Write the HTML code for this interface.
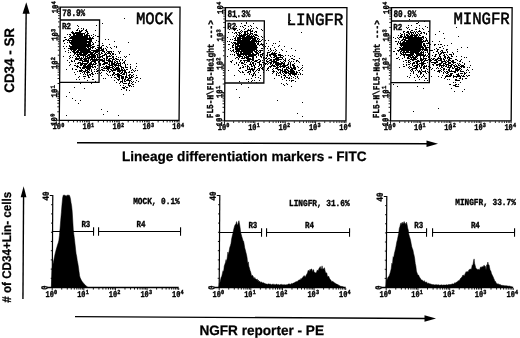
<!DOCTYPE html>
<html><head><meta charset="utf-8"><title>Figure</title>
<style>html,body{margin:0;padding:0;background:#fff;}svg{display:block;}</style>
</head><body>
<svg width="520" height="338" viewBox="0 0 520 338" text-rendering="geometricPrecision">
<rect width="520" height="338" fill="#fff"/>
<g transform="translate(0 64) skewX(-0.5) translate(0 -64)">
<rect x="59.80" y="7.10" width="119.75" height="113.20" fill="none" stroke="#000" stroke-width="1.3"/>
<path d="M59.80 120.80v2.6M68.81 120.80v1.6M74.08 120.80v1.6M77.82 120.80v1.6M80.73 120.80v1.6M83.10 120.80v1.6M85.10 120.80v1.6M86.84 120.80v1.6M88.37 120.80v1.6M89.74 120.80v2.6M98.75 120.80v1.6M104.02 120.80v1.6M107.76 120.80v1.6M110.66 120.80v1.6M113.03 120.80v1.6M115.04 120.80v1.6M116.77 120.80v1.6M118.31 120.80v1.6M119.68 120.80v2.6M128.69 120.80v1.6M133.96 120.80v1.6M137.70 120.80v1.6M140.60 120.80v1.6M142.97 120.80v1.6M144.98 120.80v1.6M146.71 120.80v1.6M148.24 120.80v1.6M149.61 120.80v2.6M158.62 120.80v1.6M163.90 120.80v1.6M167.64 120.80v1.6M170.54 120.80v1.6M172.91 120.80v1.6M174.91 120.80v1.6M176.65 120.80v1.6M178.18 120.80v1.6M179.55 120.80v2.0" stroke="#000" stroke-width="0.9" fill="none"/>
<path d="M59.30 120.30h-2.6M59.30 111.78h-1.6M59.30 106.80h-1.6M59.30 103.26h-1.6M59.30 100.52h-1.6M59.30 98.28h-1.6M59.30 96.38h-1.6M59.30 94.74h-1.6M59.30 93.29h-1.6M59.30 92.00h-2.6M59.30 83.48h-1.6M59.30 78.50h-1.6M59.30 74.96h-1.6M59.30 72.22h-1.6M59.30 69.98h-1.6M59.30 68.08h-1.6M59.30 66.44h-1.6M59.30 64.99h-1.6M59.30 63.70h-2.6M59.30 55.18h-1.6M59.30 50.20h-1.6M59.30 46.66h-1.6M59.30 43.92h-1.6M59.30 41.68h-1.6M59.30 39.78h-1.6M59.30 38.14h-1.6M59.30 36.69h-1.6M59.30 35.40h-2.6M59.30 26.88h-1.6M59.30 21.90h-1.6M59.30 18.36h-1.6M59.30 15.62h-1.6M59.30 13.38h-1.6M59.30 11.48h-1.6M59.30 9.84h-1.6M59.30 8.39h-1.6M59.30 7.10h-2.2" stroke="#000" stroke-width="0.9" fill="none"/>
<path d="M59.80 20.00H99.20V82.30H59.80" fill="none" stroke="#000" stroke-width="1.3"/>
<text x="135.60" y="23.60" font-family='"Liberation Mono", monospace' font-size="17" font-weight="normal" text-anchor="start" textLength="37.20" lengthAdjust="spacingAndGlyphs" stroke="#000" stroke-width="0.55">MOCK</text>
<text x="61.80" y="16.10" font-family='"Liberation Mono", monospace' font-size="10" font-weight="bold" text-anchor="start" textLength="23.00" lengthAdjust="spacingAndGlyphs" stroke="#000" stroke-width="0.38">78.9%</text>
<text x="61.80" y="28.60" font-family='"Liberation Mono", monospace' font-size="9.2" font-weight="bold" text-anchor="start" textLength="8.90" lengthAdjust="spacingAndGlyphs" stroke="#000" stroke-width="0.38">R2</text>
<text x="53.20" y="129.30" font-family='"Liberation Mono", monospace' font-size="8.8" font-weight="bold" text-anchor="start" textLength="8.30" lengthAdjust="spacingAndGlyphs" stroke="#000" stroke-width="0.38">10</text>
<text x="61.70" y="126.90" font-family='"Liberation Mono", monospace' font-size="6.2" font-weight="bold" text-anchor="start" textLength="3.10" lengthAdjust="spacingAndGlyphs" stroke="#000" stroke-width="0.38">0</text>
<text x="83.14" y="129.30" font-family='"Liberation Mono", monospace' font-size="8.8" font-weight="bold" text-anchor="start" textLength="8.30" lengthAdjust="spacingAndGlyphs" stroke="#000" stroke-width="0.38">10</text>
<text x="91.64" y="126.90" font-family='"Liberation Mono", monospace' font-size="6.2" font-weight="bold" text-anchor="start" textLength="3.10" lengthAdjust="spacingAndGlyphs" stroke="#000" stroke-width="0.38">1</text>
<text x="113.08" y="129.30" font-family='"Liberation Mono", monospace' font-size="8.8" font-weight="bold" text-anchor="start" textLength="8.30" lengthAdjust="spacingAndGlyphs" stroke="#000" stroke-width="0.38">10</text>
<text x="121.58" y="126.90" font-family='"Liberation Mono", monospace' font-size="6.2" font-weight="bold" text-anchor="start" textLength="3.10" lengthAdjust="spacingAndGlyphs" stroke="#000" stroke-width="0.38">2</text>
<text x="143.01" y="129.30" font-family='"Liberation Mono", monospace' font-size="8.8" font-weight="bold" text-anchor="start" textLength="8.30" lengthAdjust="spacingAndGlyphs" stroke="#000" stroke-width="0.38">10</text>
<text x="151.51" y="126.90" font-family='"Liberation Mono", monospace' font-size="6.2" font-weight="bold" text-anchor="start" textLength="3.10" lengthAdjust="spacingAndGlyphs" stroke="#000" stroke-width="0.38">3</text>
<text x="172.95" y="129.30" font-family='"Liberation Mono", monospace' font-size="8.8" font-weight="bold" text-anchor="start" textLength="8.30" lengthAdjust="spacingAndGlyphs" stroke="#000" stroke-width="0.38">10</text>
<text x="181.45" y="126.90" font-family='"Liberation Mono", monospace' font-size="6.2" font-weight="bold" text-anchor="start" textLength="3.10" lengthAdjust="spacingAndGlyphs" stroke="#000" stroke-width="0.38">4</text>
<g transform="translate(57.40 125.70) rotate(-90)">
<text x="0.00" y="0.00" font-family='"Liberation Mono", monospace' font-size="8.8" font-weight="bold" text-anchor="start" textLength="8.60" lengthAdjust="spacingAndGlyphs" stroke="#000" stroke-width="0.38">10</text>
<text x="8.90" y="-2.40" font-family='"Liberation Mono", monospace' font-size="6.2" font-weight="bold" text-anchor="start" textLength="3.20" lengthAdjust="spacingAndGlyphs" stroke="#000" stroke-width="0.38">0</text>
</g>
<g transform="translate(57.40 97.40) rotate(-90)">
<text x="0.00" y="0.00" font-family='"Liberation Mono", monospace' font-size="8.8" font-weight="bold" text-anchor="start" textLength="8.60" lengthAdjust="spacingAndGlyphs" stroke="#000" stroke-width="0.38">10</text>
<text x="8.90" y="-2.40" font-family='"Liberation Mono", monospace' font-size="6.2" font-weight="bold" text-anchor="start" textLength="3.20" lengthAdjust="spacingAndGlyphs" stroke="#000" stroke-width="0.38">1</text>
</g>
<g transform="translate(57.40 69.10) rotate(-90)">
<text x="0.00" y="0.00" font-family='"Liberation Mono", monospace' font-size="8.8" font-weight="bold" text-anchor="start" textLength="8.60" lengthAdjust="spacingAndGlyphs" stroke="#000" stroke-width="0.38">10</text>
<text x="8.90" y="-2.40" font-family='"Liberation Mono", monospace' font-size="6.2" font-weight="bold" text-anchor="start" textLength="3.20" lengthAdjust="spacingAndGlyphs" stroke="#000" stroke-width="0.38">2</text>
</g>
<g transform="translate(57.40 40.80) rotate(-90)">
<text x="0.00" y="0.00" font-family='"Liberation Mono", monospace' font-size="8.8" font-weight="bold" text-anchor="start" textLength="8.60" lengthAdjust="spacingAndGlyphs" stroke="#000" stroke-width="0.38">10</text>
<text x="8.90" y="-2.40" font-family='"Liberation Mono", monospace' font-size="6.2" font-weight="bold" text-anchor="start" textLength="3.20" lengthAdjust="spacingAndGlyphs" stroke="#000" stroke-width="0.38">3</text>
</g>
<g transform="translate(57.40 13.30) rotate(-90)">
<text x="0.00" y="0.00" font-family='"Liberation Mono", monospace' font-size="8.8" font-weight="bold" text-anchor="start" textLength="8.60" lengthAdjust="spacingAndGlyphs" stroke="#000" stroke-width="0.38">10</text>
<text x="8.90" y="-2.40" font-family='"Liberation Mono", monospace' font-size="6.2" font-weight="bold" text-anchor="start" textLength="3.20" lengthAdjust="spacingAndGlyphs" stroke="#000" stroke-width="0.38">4</text>
</g>
<rect x="225.00" y="7.70" width="121.45" height="113.10" fill="none" stroke="#000" stroke-width="1.3"/>
<path d="M225.00 121.30v2.6M234.14 121.30v1.6M239.49 121.30v1.6M243.28 121.30v1.6M246.22 121.30v1.6M248.63 121.30v1.6M250.66 121.30v1.6M252.42 121.30v1.6M253.97 121.30v1.6M255.36 121.30v2.6M264.50 121.30v1.6M269.85 121.30v1.6M273.64 121.30v1.6M276.58 121.30v1.6M278.99 121.30v1.6M281.02 121.30v1.6M282.78 121.30v1.6M284.34 121.30v1.6M285.73 121.30v2.6M294.87 121.30v1.6M300.21 121.30v1.6M304.01 121.30v1.6M306.95 121.30v1.6M309.35 121.30v1.6M311.38 121.30v1.6M313.15 121.30v1.6M314.70 121.30v1.6M316.09 121.30v2.6M325.23 121.30v1.6M330.57 121.30v1.6M334.37 121.30v1.6M337.31 121.30v1.6M339.71 121.30v1.6M341.75 121.30v1.6M343.51 121.30v1.6M345.06 121.30v1.6M346.45 121.30v2.0" stroke="#000" stroke-width="0.9" fill="none"/>
<path d="M224.50 120.80h-2.6M224.50 112.29h-1.6M224.50 107.31h-1.6M224.50 103.78h-1.6M224.50 101.04h-1.6M224.50 98.80h-1.6M224.50 96.90h-1.6M224.50 95.27h-1.6M224.50 93.82h-1.6M224.50 92.53h-2.6M224.50 84.01h-1.6M224.50 79.03h-1.6M224.50 75.50h-1.6M224.50 72.76h-1.6M224.50 70.52h-1.6M224.50 68.63h-1.6M224.50 66.99h-1.6M224.50 65.54h-1.6M224.50 64.25h-2.6M224.50 55.74h-1.6M224.50 50.76h-1.6M224.50 47.23h-1.6M224.50 44.49h-1.6M224.50 42.25h-1.6M224.50 40.35h-1.6M224.50 38.72h-1.6M224.50 37.27h-1.6M224.50 35.98h-2.6M224.50 27.46h-1.6M224.50 22.48h-1.6M224.50 18.95h-1.6M224.50 16.21h-1.6M224.50 13.97h-1.6M224.50 12.08h-1.6M224.50 10.44h-1.6M224.50 8.99h-1.6M224.50 7.70h-2.2" stroke="#000" stroke-width="0.9" fill="none"/>
<path d="M225.00 20.80H264.00V83.00H225.00" fill="none" stroke="#000" stroke-width="1.3"/>
<text x="286.10" y="25.20" font-family='"Liberation Mono", monospace' font-size="17" font-weight="normal" text-anchor="start" textLength="56.90" lengthAdjust="spacingAndGlyphs" stroke="#000" stroke-width="0.55">LINGFR</text>
<text x="227.00" y="16.70" font-family='"Liberation Mono", monospace' font-size="10" font-weight="bold" text-anchor="start" textLength="23.00" lengthAdjust="spacingAndGlyphs" stroke="#000" stroke-width="0.38">81.3%</text>
<text x="227.00" y="29.40" font-family='"Liberation Mono", monospace' font-size="9.2" font-weight="bold" text-anchor="start" textLength="8.90" lengthAdjust="spacingAndGlyphs" stroke="#000" stroke-width="0.38">R2</text>
<text x="218.40" y="129.80" font-family='"Liberation Mono", monospace' font-size="8.8" font-weight="bold" text-anchor="start" textLength="8.30" lengthAdjust="spacingAndGlyphs" stroke="#000" stroke-width="0.38">10</text>
<text x="226.90" y="127.40" font-family='"Liberation Mono", monospace' font-size="6.2" font-weight="bold" text-anchor="start" textLength="3.10" lengthAdjust="spacingAndGlyphs" stroke="#000" stroke-width="0.38">0</text>
<text x="248.76" y="129.80" font-family='"Liberation Mono", monospace' font-size="8.8" font-weight="bold" text-anchor="start" textLength="8.30" lengthAdjust="spacingAndGlyphs" stroke="#000" stroke-width="0.38">10</text>
<text x="257.26" y="127.40" font-family='"Liberation Mono", monospace' font-size="6.2" font-weight="bold" text-anchor="start" textLength="3.10" lengthAdjust="spacingAndGlyphs" stroke="#000" stroke-width="0.38">1</text>
<text x="279.12" y="129.80" font-family='"Liberation Mono", monospace' font-size="8.8" font-weight="bold" text-anchor="start" textLength="8.30" lengthAdjust="spacingAndGlyphs" stroke="#000" stroke-width="0.38">10</text>
<text x="287.62" y="127.40" font-family='"Liberation Mono", monospace' font-size="6.2" font-weight="bold" text-anchor="start" textLength="3.10" lengthAdjust="spacingAndGlyphs" stroke="#000" stroke-width="0.38">2</text>
<text x="309.49" y="129.80" font-family='"Liberation Mono", monospace' font-size="8.8" font-weight="bold" text-anchor="start" textLength="8.30" lengthAdjust="spacingAndGlyphs" stroke="#000" stroke-width="0.38">10</text>
<text x="317.99" y="127.40" font-family='"Liberation Mono", monospace' font-size="6.2" font-weight="bold" text-anchor="start" textLength="3.10" lengthAdjust="spacingAndGlyphs" stroke="#000" stroke-width="0.38">3</text>
<text x="339.85" y="129.80" font-family='"Liberation Mono", monospace' font-size="8.8" font-weight="bold" text-anchor="start" textLength="8.30" lengthAdjust="spacingAndGlyphs" stroke="#000" stroke-width="0.38">10</text>
<text x="348.35" y="127.40" font-family='"Liberation Mono", monospace' font-size="6.2" font-weight="bold" text-anchor="start" textLength="3.10" lengthAdjust="spacingAndGlyphs" stroke="#000" stroke-width="0.38">4</text>
<g transform="translate(222.60 126.20) rotate(-90)">
<text x="0.00" y="0.00" font-family='"Liberation Mono", monospace' font-size="8.8" font-weight="bold" text-anchor="start" textLength="8.60" lengthAdjust="spacingAndGlyphs" stroke="#000" stroke-width="0.38">10</text>
<text x="8.90" y="-2.40" font-family='"Liberation Mono", monospace' font-size="6.2" font-weight="bold" text-anchor="start" textLength="3.20" lengthAdjust="spacingAndGlyphs" stroke="#000" stroke-width="0.38">0</text>
</g>
<g transform="translate(222.60 97.93) rotate(-90)">
<text x="0.00" y="0.00" font-family='"Liberation Mono", monospace' font-size="8.8" font-weight="bold" text-anchor="start" textLength="8.60" lengthAdjust="spacingAndGlyphs" stroke="#000" stroke-width="0.38">10</text>
<text x="8.90" y="-2.40" font-family='"Liberation Mono", monospace' font-size="6.2" font-weight="bold" text-anchor="start" textLength="3.20" lengthAdjust="spacingAndGlyphs" stroke="#000" stroke-width="0.38">1</text>
</g>
<g transform="translate(222.60 69.65) rotate(-90)">
<text x="0.00" y="0.00" font-family='"Liberation Mono", monospace' font-size="8.8" font-weight="bold" text-anchor="start" textLength="8.60" lengthAdjust="spacingAndGlyphs" stroke="#000" stroke-width="0.38">10</text>
<text x="8.90" y="-2.40" font-family='"Liberation Mono", monospace' font-size="6.2" font-weight="bold" text-anchor="start" textLength="3.20" lengthAdjust="spacingAndGlyphs" stroke="#000" stroke-width="0.38">2</text>
</g>
<g transform="translate(222.60 41.38) rotate(-90)">
<text x="0.00" y="0.00" font-family='"Liberation Mono", monospace' font-size="8.8" font-weight="bold" text-anchor="start" textLength="8.60" lengthAdjust="spacingAndGlyphs" stroke="#000" stroke-width="0.38">10</text>
<text x="8.90" y="-2.40" font-family='"Liberation Mono", monospace' font-size="6.2" font-weight="bold" text-anchor="start" textLength="3.20" lengthAdjust="spacingAndGlyphs" stroke="#000" stroke-width="0.38">3</text>
</g>
<g transform="translate(222.60 13.90) rotate(-90)">
<text x="0.00" y="0.00" font-family='"Liberation Mono", monospace' font-size="8.8" font-weight="bold" text-anchor="start" textLength="8.60" lengthAdjust="spacingAndGlyphs" stroke="#000" stroke-width="0.38">10</text>
<text x="8.90" y="-2.40" font-family='"Liberation Mono", monospace' font-size="6.2" font-weight="bold" text-anchor="start" textLength="3.20" lengthAdjust="spacingAndGlyphs" stroke="#000" stroke-width="0.38">4</text>
</g>
<text x="213.50" y="118.30" font-family='"Liberation Mono", monospace' font-size="9.2" font-weight="bold" text-anchor="start" textLength="98.20" lengthAdjust="spacingAndGlyphs" transform="rotate(-90 213.50 118.30)" stroke="#000" stroke-width="0.38">FL5-H\FL5-Height ---&gt;</text>
<rect x="391.05" y="7.70" width="120.60" height="113.10" fill="none" stroke="#000" stroke-width="1.3"/>
<path d="M391.05 121.30v2.6M400.13 121.30v1.6M405.44 121.30v1.6M409.20 121.30v1.6M412.12 121.30v1.6M414.51 121.30v1.6M416.53 121.30v1.6M418.28 121.30v1.6M419.82 121.30v1.6M421.20 121.30v2.6M430.28 121.30v1.6M435.59 121.30v1.6M439.35 121.30v1.6M442.27 121.30v1.6M444.66 121.30v1.6M446.68 121.30v1.6M448.43 121.30v1.6M449.97 121.30v1.6M451.35 121.30v2.6M460.43 121.30v1.6M465.74 121.30v1.6M469.50 121.30v1.6M472.42 121.30v1.6M474.81 121.30v1.6M476.83 121.30v1.6M478.58 121.30v1.6M480.12 121.30v1.6M481.50 121.30v2.6M490.58 121.30v1.6M495.89 121.30v1.6M499.65 121.30v1.6M502.57 121.30v1.6M504.96 121.30v1.6M506.98 121.30v1.6M508.73 121.30v1.6M510.27 121.30v1.6M511.65 121.30v2.0" stroke="#000" stroke-width="0.9" fill="none"/>
<path d="M390.55 120.80h-2.6M390.55 112.29h-1.6M390.55 107.31h-1.6M390.55 103.78h-1.6M390.55 101.04h-1.6M390.55 98.80h-1.6M390.55 96.90h-1.6M390.55 95.27h-1.6M390.55 93.82h-1.6M390.55 92.53h-2.6M390.55 84.01h-1.6M390.55 79.03h-1.6M390.55 75.50h-1.6M390.55 72.76h-1.6M390.55 70.52h-1.6M390.55 68.63h-1.6M390.55 66.99h-1.6M390.55 65.54h-1.6M390.55 64.25h-2.6M390.55 55.74h-1.6M390.55 50.76h-1.6M390.55 47.23h-1.6M390.55 44.49h-1.6M390.55 42.25h-1.6M390.55 40.35h-1.6M390.55 38.72h-1.6M390.55 37.27h-1.6M390.55 35.98h-2.6M390.55 27.46h-1.6M390.55 22.48h-1.6M390.55 18.95h-1.6M390.55 16.21h-1.6M390.55 13.97h-1.6M390.55 12.08h-1.6M390.55 10.44h-1.6M390.55 8.99h-1.6M390.55 7.70h-2.2" stroke="#000" stroke-width="0.9" fill="none"/>
<path d="M391.05 21.00H429.50V82.60H391.05" fill="none" stroke="#000" stroke-width="1.3"/>
<text x="453.10" y="24.10" font-family='"Liberation Mono", monospace' font-size="17" font-weight="normal" text-anchor="start" textLength="56.20" lengthAdjust="spacingAndGlyphs" stroke="#000" stroke-width="0.55">MINGFR</text>
<text x="393.05" y="16.70" font-family='"Liberation Mono", monospace' font-size="10" font-weight="bold" text-anchor="start" textLength="23.00" lengthAdjust="spacingAndGlyphs" stroke="#000" stroke-width="0.38">80.9%</text>
<text x="393.05" y="29.60" font-family='"Liberation Mono", monospace' font-size="9.2" font-weight="bold" text-anchor="start" textLength="8.90" lengthAdjust="spacingAndGlyphs" stroke="#000" stroke-width="0.38">R2</text>
<text x="384.45" y="129.80" font-family='"Liberation Mono", monospace' font-size="8.8" font-weight="bold" text-anchor="start" textLength="8.30" lengthAdjust="spacingAndGlyphs" stroke="#000" stroke-width="0.38">10</text>
<text x="392.95" y="127.40" font-family='"Liberation Mono", monospace' font-size="6.2" font-weight="bold" text-anchor="start" textLength="3.10" lengthAdjust="spacingAndGlyphs" stroke="#000" stroke-width="0.38">0</text>
<text x="414.60" y="129.80" font-family='"Liberation Mono", monospace' font-size="8.8" font-weight="bold" text-anchor="start" textLength="8.30" lengthAdjust="spacingAndGlyphs" stroke="#000" stroke-width="0.38">10</text>
<text x="423.10" y="127.40" font-family='"Liberation Mono", monospace' font-size="6.2" font-weight="bold" text-anchor="start" textLength="3.10" lengthAdjust="spacingAndGlyphs" stroke="#000" stroke-width="0.38">1</text>
<text x="444.75" y="129.80" font-family='"Liberation Mono", monospace' font-size="8.8" font-weight="bold" text-anchor="start" textLength="8.30" lengthAdjust="spacingAndGlyphs" stroke="#000" stroke-width="0.38">10</text>
<text x="453.25" y="127.40" font-family='"Liberation Mono", monospace' font-size="6.2" font-weight="bold" text-anchor="start" textLength="3.10" lengthAdjust="spacingAndGlyphs" stroke="#000" stroke-width="0.38">2</text>
<text x="474.90" y="129.80" font-family='"Liberation Mono", monospace' font-size="8.8" font-weight="bold" text-anchor="start" textLength="8.30" lengthAdjust="spacingAndGlyphs" stroke="#000" stroke-width="0.38">10</text>
<text x="483.40" y="127.40" font-family='"Liberation Mono", monospace' font-size="6.2" font-weight="bold" text-anchor="start" textLength="3.10" lengthAdjust="spacingAndGlyphs" stroke="#000" stroke-width="0.38">3</text>
<text x="505.05" y="129.80" font-family='"Liberation Mono", monospace' font-size="8.8" font-weight="bold" text-anchor="start" textLength="8.30" lengthAdjust="spacingAndGlyphs" stroke="#000" stroke-width="0.38">10</text>
<text x="513.55" y="127.40" font-family='"Liberation Mono", monospace' font-size="6.2" font-weight="bold" text-anchor="start" textLength="3.10" lengthAdjust="spacingAndGlyphs" stroke="#000" stroke-width="0.38">4</text>
<g transform="translate(388.65 126.20) rotate(-90)">
<text x="0.00" y="0.00" font-family='"Liberation Mono", monospace' font-size="8.8" font-weight="bold" text-anchor="start" textLength="8.60" lengthAdjust="spacingAndGlyphs" stroke="#000" stroke-width="0.38">10</text>
<text x="8.90" y="-2.40" font-family='"Liberation Mono", monospace' font-size="6.2" font-weight="bold" text-anchor="start" textLength="3.20" lengthAdjust="spacingAndGlyphs" stroke="#000" stroke-width="0.38">0</text>
</g>
<g transform="translate(388.65 97.93) rotate(-90)">
<text x="0.00" y="0.00" font-family='"Liberation Mono", monospace' font-size="8.8" font-weight="bold" text-anchor="start" textLength="8.60" lengthAdjust="spacingAndGlyphs" stroke="#000" stroke-width="0.38">10</text>
<text x="8.90" y="-2.40" font-family='"Liberation Mono", monospace' font-size="6.2" font-weight="bold" text-anchor="start" textLength="3.20" lengthAdjust="spacingAndGlyphs" stroke="#000" stroke-width="0.38">1</text>
</g>
<g transform="translate(388.65 69.65) rotate(-90)">
<text x="0.00" y="0.00" font-family='"Liberation Mono", monospace' font-size="8.8" font-weight="bold" text-anchor="start" textLength="8.60" lengthAdjust="spacingAndGlyphs" stroke="#000" stroke-width="0.38">10</text>
<text x="8.90" y="-2.40" font-family='"Liberation Mono", monospace' font-size="6.2" font-weight="bold" text-anchor="start" textLength="3.20" lengthAdjust="spacingAndGlyphs" stroke="#000" stroke-width="0.38">2</text>
</g>
<g transform="translate(388.65 41.38) rotate(-90)">
<text x="0.00" y="0.00" font-family='"Liberation Mono", monospace' font-size="8.8" font-weight="bold" text-anchor="start" textLength="8.60" lengthAdjust="spacingAndGlyphs" stroke="#000" stroke-width="0.38">10</text>
<text x="8.90" y="-2.40" font-family='"Liberation Mono", monospace' font-size="6.2" font-weight="bold" text-anchor="start" textLength="3.20" lengthAdjust="spacingAndGlyphs" stroke="#000" stroke-width="0.38">3</text>
</g>
<g transform="translate(388.65 13.90) rotate(-90)">
<text x="0.00" y="0.00" font-family='"Liberation Mono", monospace' font-size="8.8" font-weight="bold" text-anchor="start" textLength="8.60" lengthAdjust="spacingAndGlyphs" stroke="#000" stroke-width="0.38">10</text>
<text x="8.90" y="-2.40" font-family='"Liberation Mono", monospace' font-size="6.2" font-weight="bold" text-anchor="start" textLength="3.20" lengthAdjust="spacingAndGlyphs" stroke="#000" stroke-width="0.38">4</text>
</g>
<text x="379.55" y="118.30" font-family='"Liberation Mono", monospace' font-size="9.2" font-weight="bold" text-anchor="start" textLength="98.20" lengthAdjust="spacingAndGlyphs" transform="rotate(-90 379.55 118.30)" stroke="#000" stroke-width="0.38">FL5-H\FL5-Height ---&gt;</text>
</g>
<g transform="translate(0 59) skewX(-0.7) translate(0 -59)">
<line x1="25.60" y1="116.00" x2="25.60" y2="12.80" stroke="#000" stroke-width="1.4"/>
<path d="M25.60 2.30L22.00 13.80L29.20 13.80Z" fill="#000"/>
</g>
<text x="13.80" y="92.80" font-family='"Liberation Sans", sans-serif' font-size="13.8" font-weight="bold" text-anchor="start" textLength="64.80" lengthAdjust="spacingAndGlyphs" transform="rotate(-90 13.80 92.80)" stroke="#000" stroke-width="0.25">CD34 - SR</text>
<line x1="77.00" y1="142.70" x2="427.50" y2="143.70" stroke="#000" stroke-width="1.4"/>
<path d="M438.00 143.70L426.50 140.50L426.50 146.90Z" fill="#000"/>
<text x="122.00" y="160.60" font-family='"Liberation Sans", sans-serif' font-size="13.7" font-weight="bold" text-anchor="start" textLength="244.50" lengthAdjust="spacingAndGlyphs" stroke="#000" stroke-width="0.25">Lineage differentiation markers - FITC</text>
<g transform="translate(0 241) skewX(-0.35) translate(0 -241)">
<line x1="52.50" y1="195.00" x2="52.50" y2="288.00" stroke="#000" stroke-width="1.2"/>
<line x1="47.50" y1="287.50" x2="179.00" y2="287.50" stroke="#000" stroke-width="1.3"/>
<line x1="49.50" y1="195.50" x2="52.50" y2="195.50" stroke="#000" stroke-width="1.0"/>
<path d="M52.50 288.00v2.6M62.02 288.00v1.6M67.59 288.00v1.6M71.54 288.00v1.6M74.60 288.00v1.6M77.11 288.00v1.6M79.23 288.00v1.6M81.06 288.00v1.6M82.68 288.00v1.6M84.12 288.00v2.6M93.65 288.00v1.6M99.21 288.00v1.6M103.17 288.00v1.6M106.23 288.00v1.6M108.73 288.00v1.6M110.85 288.00v1.6M112.69 288.00v1.6M114.30 288.00v1.6M115.75 288.00v2.6M125.27 288.00v1.6M130.84 288.00v1.6M134.79 288.00v1.6M137.85 288.00v1.6M140.36 288.00v1.6M142.48 288.00v1.6M144.31 288.00v1.6M145.93 288.00v1.6M147.38 288.00v2.6M156.90 288.00v1.6M162.46 288.00v1.6M166.42 288.00v1.6M169.48 288.00v1.6M171.98 288.00v1.6M174.10 288.00v1.6M175.94 288.00v1.6M177.55 288.00v1.6M179.00 288.00v2.0" stroke="#000" stroke-width="0.9" fill="none"/>
<line x1="50.90" y1="278.30" x2="52.50" y2="278.30" stroke="#000" stroke-width="0.9"/>
<line x1="50.90" y1="269.10" x2="52.50" y2="269.10" stroke="#000" stroke-width="0.9"/>
<line x1="50.90" y1="259.90" x2="52.50" y2="259.90" stroke="#000" stroke-width="0.9"/>
<line x1="50.90" y1="250.70" x2="52.50" y2="250.70" stroke="#000" stroke-width="0.9"/>
<line x1="50.90" y1="241.50" x2="52.50" y2="241.50" stroke="#000" stroke-width="0.9"/>
<line x1="50.90" y1="232.30" x2="52.50" y2="232.30" stroke="#000" stroke-width="0.9"/>
<line x1="50.90" y1="223.10" x2="52.50" y2="223.10" stroke="#000" stroke-width="0.9"/>
<line x1="50.90" y1="213.90" x2="52.50" y2="213.90" stroke="#000" stroke-width="0.9"/>
<line x1="50.90" y1="204.70" x2="52.50" y2="204.70" stroke="#000" stroke-width="0.9"/>
<text x="45.90" y="296.70" font-family='"Liberation Mono", monospace' font-size="8.8" font-weight="bold" text-anchor="start" textLength="8.30" lengthAdjust="spacingAndGlyphs" stroke="#000" stroke-width="0.38">10</text>
<text x="54.40" y="294.30" font-family='"Liberation Mono", monospace' font-size="6.2" font-weight="bold" text-anchor="start" textLength="3.10" lengthAdjust="spacingAndGlyphs" stroke="#000" stroke-width="0.38">0</text>
<text x="77.53" y="296.70" font-family='"Liberation Mono", monospace' font-size="8.8" font-weight="bold" text-anchor="start" textLength="8.30" lengthAdjust="spacingAndGlyphs" stroke="#000" stroke-width="0.38">10</text>
<text x="86.03" y="294.30" font-family='"Liberation Mono", monospace' font-size="6.2" font-weight="bold" text-anchor="start" textLength="3.10" lengthAdjust="spacingAndGlyphs" stroke="#000" stroke-width="0.38">1</text>
<text x="109.15" y="296.70" font-family='"Liberation Mono", monospace' font-size="8.8" font-weight="bold" text-anchor="start" textLength="8.30" lengthAdjust="spacingAndGlyphs" stroke="#000" stroke-width="0.38">10</text>
<text x="117.65" y="294.30" font-family='"Liberation Mono", monospace' font-size="6.2" font-weight="bold" text-anchor="start" textLength="3.10" lengthAdjust="spacingAndGlyphs" stroke="#000" stroke-width="0.38">2</text>
<text x="140.78" y="296.70" font-family='"Liberation Mono", monospace' font-size="8.8" font-weight="bold" text-anchor="start" textLength="8.30" lengthAdjust="spacingAndGlyphs" stroke="#000" stroke-width="0.38">10</text>
<text x="149.28" y="294.30" font-family='"Liberation Mono", monospace' font-size="6.2" font-weight="bold" text-anchor="start" textLength="3.10" lengthAdjust="spacingAndGlyphs" stroke="#000" stroke-width="0.38">3</text>
<text x="172.40" y="296.70" font-family='"Liberation Mono", monospace' font-size="8.8" font-weight="bold" text-anchor="start" textLength="8.30" lengthAdjust="spacingAndGlyphs" stroke="#000" stroke-width="0.38">10</text>
<text x="180.90" y="294.30" font-family='"Liberation Mono", monospace' font-size="6.2" font-weight="bold" text-anchor="start" textLength="3.10" lengthAdjust="spacingAndGlyphs" stroke="#000" stroke-width="0.38">4</text>
<text x="48.50" y="200.40" font-family='"Liberation Mono", monospace' font-size="9.2" font-weight="bold" text-anchor="start" textLength="8.90" lengthAdjust="spacingAndGlyphs" transform="rotate(-90 48.50 200.40)" stroke="#000" stroke-width="0.38">40</text>
<text x="47.90" y="289.80" font-family='"Liberation Mono", monospace' font-size="9.2" font-weight="bold" text-anchor="start" textLength="4.20" lengthAdjust="spacingAndGlyphs" transform="rotate(-90 47.90 289.80)" stroke="#000" stroke-width="0.38">0</text>
<text x="133.00" y="204.40" font-family='"Liberation Mono", monospace' font-size="9.2" font-weight="bold" text-anchor="start" textLength="46.50" lengthAdjust="spacingAndGlyphs" stroke="#000" stroke-width="0.38">MOCK, 0.1%</text>
<line x1="52.00" y1="231.50" x2="93.50" y2="231.50" stroke="#000" stroke-width="1.0"/>
<line x1="93.50" y1="227.30" x2="93.50" y2="235.70" stroke="#000" stroke-width="1.1"/>
<line x1="98.50" y1="231.50" x2="180.50" y2="231.50" stroke="#000" stroke-width="1.0"/>
<line x1="98.50" y1="227.30" x2="98.50" y2="235.70" stroke="#000" stroke-width="1.1"/>
<line x1="180.50" y1="227.30" x2="180.50" y2="235.70" stroke="#000" stroke-width="1.1"/>
<text x="81.30" y="226.90" font-family='"Liberation Mono", monospace' font-size="9.2" font-weight="bold" text-anchor="start" textLength="8.90" lengthAdjust="spacingAndGlyphs" stroke="#000" stroke-width="0.38">R3</text>
<text x="136.50" y="226.90" font-family='"Liberation Mono", monospace' font-size="9.2" font-weight="bold" text-anchor="start" textLength="8.90" lengthAdjust="spacingAndGlyphs" stroke="#000" stroke-width="0.38">R4</text>
<path d="M51.60 287.50L51.60 287.01L52.20 269.33L52.80 265.56L53.40 262.82L54.00 259.74L54.60 256.69L55.20 253.65L55.80 251.29L56.40 249.02L57.00 246.94L57.60 244.68L58.20 242.97L58.80 240.68L59.40 235.49L60.00 228.32L60.60 220.06L61.20 212.32L61.80 204.27L62.40 197.67L63.00 195.20L63.60 195.20L64.20 195.20L64.80 195.22L65.40 196.05L66.00 196.28L66.60 195.32L67.20 195.20L67.80 195.20L68.40 195.20L69.00 195.20L69.60 196.48L70.20 198.71L70.80 202.66L71.40 205.68L72.00 211.14L72.60 220.07L73.20 229.39L73.80 234.39L74.40 238.65L75.00 243.72L75.60 249.09L76.20 253.89L76.80 256.58L77.40 260.85L78.00 263.59L78.60 267.17L79.20 271.40L79.80 275.72L80.40 277.85L81.00 279.03L81.60 280.24L82.20 281.26L82.80 281.99L83.40 282.77L84.00 283.48L84.60 284.10L85.20 284.76L85.80 285.36L86.40 286.00L87.00 286.38L87.60 286.75L87.60 287.50Z" fill="#000" stroke="#000" stroke-width="0.5" stroke-linejoin="round"/>
<line x1="219.50" y1="195.00" x2="219.50" y2="288.00" stroke="#000" stroke-width="1.2"/>
<line x1="214.50" y1="287.50" x2="346.00" y2="287.50" stroke="#000" stroke-width="1.3"/>
<line x1="216.50" y1="195.50" x2="219.50" y2="195.50" stroke="#000" stroke-width="1.0"/>
<path d="M219.50 288.00v2.6M229.02 288.00v1.6M234.59 288.00v1.6M238.54 288.00v1.6M241.60 288.00v1.6M244.11 288.00v1.6M246.23 288.00v1.6M248.06 288.00v1.6M249.68 288.00v1.6M251.12 288.00v2.6M260.65 288.00v1.6M266.21 288.00v1.6M270.17 288.00v1.6M273.23 288.00v1.6M275.73 288.00v1.6M277.85 288.00v1.6M279.69 288.00v1.6M281.30 288.00v1.6M282.75 288.00v2.6M292.27 288.00v1.6M297.84 288.00v1.6M301.79 288.00v1.6M304.85 288.00v1.6M307.36 288.00v1.6M309.48 288.00v1.6M311.31 288.00v1.6M312.93 288.00v1.6M314.38 288.00v2.6M323.90 288.00v1.6M329.46 288.00v1.6M333.42 288.00v1.6M336.48 288.00v1.6M338.98 288.00v1.6M341.10 288.00v1.6M342.94 288.00v1.6M344.55 288.00v1.6M346.00 288.00v2.0" stroke="#000" stroke-width="0.9" fill="none"/>
<line x1="217.90" y1="278.30" x2="219.50" y2="278.30" stroke="#000" stroke-width="0.9"/>
<line x1="217.90" y1="269.10" x2="219.50" y2="269.10" stroke="#000" stroke-width="0.9"/>
<line x1="217.90" y1="259.90" x2="219.50" y2="259.90" stroke="#000" stroke-width="0.9"/>
<line x1="217.90" y1="250.70" x2="219.50" y2="250.70" stroke="#000" stroke-width="0.9"/>
<line x1="217.90" y1="241.50" x2="219.50" y2="241.50" stroke="#000" stroke-width="0.9"/>
<line x1="217.90" y1="232.30" x2="219.50" y2="232.30" stroke="#000" stroke-width="0.9"/>
<line x1="217.90" y1="223.10" x2="219.50" y2="223.10" stroke="#000" stroke-width="0.9"/>
<line x1="217.90" y1="213.90" x2="219.50" y2="213.90" stroke="#000" stroke-width="0.9"/>
<line x1="217.90" y1="204.70" x2="219.50" y2="204.70" stroke="#000" stroke-width="0.9"/>
<text x="212.90" y="296.70" font-family='"Liberation Mono", monospace' font-size="8.8" font-weight="bold" text-anchor="start" textLength="8.30" lengthAdjust="spacingAndGlyphs" stroke="#000" stroke-width="0.38">10</text>
<text x="221.40" y="294.30" font-family='"Liberation Mono", monospace' font-size="6.2" font-weight="bold" text-anchor="start" textLength="3.10" lengthAdjust="spacingAndGlyphs" stroke="#000" stroke-width="0.38">0</text>
<text x="244.53" y="296.70" font-family='"Liberation Mono", monospace' font-size="8.8" font-weight="bold" text-anchor="start" textLength="8.30" lengthAdjust="spacingAndGlyphs" stroke="#000" stroke-width="0.38">10</text>
<text x="253.03" y="294.30" font-family='"Liberation Mono", monospace' font-size="6.2" font-weight="bold" text-anchor="start" textLength="3.10" lengthAdjust="spacingAndGlyphs" stroke="#000" stroke-width="0.38">1</text>
<text x="276.15" y="296.70" font-family='"Liberation Mono", monospace' font-size="8.8" font-weight="bold" text-anchor="start" textLength="8.30" lengthAdjust="spacingAndGlyphs" stroke="#000" stroke-width="0.38">10</text>
<text x="284.65" y="294.30" font-family='"Liberation Mono", monospace' font-size="6.2" font-weight="bold" text-anchor="start" textLength="3.10" lengthAdjust="spacingAndGlyphs" stroke="#000" stroke-width="0.38">2</text>
<text x="307.77" y="296.70" font-family='"Liberation Mono", monospace' font-size="8.8" font-weight="bold" text-anchor="start" textLength="8.30" lengthAdjust="spacingAndGlyphs" stroke="#000" stroke-width="0.38">10</text>
<text x="316.27" y="294.30" font-family='"Liberation Mono", monospace' font-size="6.2" font-weight="bold" text-anchor="start" textLength="3.10" lengthAdjust="spacingAndGlyphs" stroke="#000" stroke-width="0.38">3</text>
<text x="339.40" y="296.70" font-family='"Liberation Mono", monospace' font-size="8.8" font-weight="bold" text-anchor="start" textLength="8.30" lengthAdjust="spacingAndGlyphs" stroke="#000" stroke-width="0.38">10</text>
<text x="347.90" y="294.30" font-family='"Liberation Mono", monospace' font-size="6.2" font-weight="bold" text-anchor="start" textLength="3.10" lengthAdjust="spacingAndGlyphs" stroke="#000" stroke-width="0.38">4</text>
<text x="215.50" y="200.40" font-family='"Liberation Mono", monospace' font-size="9.2" font-weight="bold" text-anchor="start" textLength="8.90" lengthAdjust="spacingAndGlyphs" transform="rotate(-90 215.50 200.40)" stroke="#000" stroke-width="0.38">40</text>
<text x="214.90" y="289.80" font-family='"Liberation Mono", monospace' font-size="9.2" font-weight="bold" text-anchor="start" textLength="4.20" lengthAdjust="spacingAndGlyphs" transform="rotate(-90 214.90 289.80)" stroke="#000" stroke-width="0.38">0</text>
<text x="288.80" y="205.90" font-family='"Liberation Mono", monospace' font-size="9.2" font-weight="bold" text-anchor="start" textLength="60.60" lengthAdjust="spacingAndGlyphs" stroke="#000" stroke-width="0.38">LINGFR, 31.6%</text>
<line x1="219.00" y1="232.50" x2="261.50" y2="232.50" stroke="#000" stroke-width="1.0"/>
<line x1="261.50" y1="228.30" x2="261.50" y2="236.70" stroke="#000" stroke-width="1.1"/>
<line x1="266.50" y1="232.50" x2="349.50" y2="232.50" stroke="#000" stroke-width="1.0"/>
<line x1="266.50" y1="228.30" x2="266.50" y2="236.70" stroke="#000" stroke-width="1.1"/>
<line x1="349.50" y1="228.30" x2="349.50" y2="236.70" stroke="#000" stroke-width="1.1"/>
<text x="248.30" y="227.90" font-family='"Liberation Mono", monospace' font-size="9.2" font-weight="bold" text-anchor="start" textLength="8.90" lengthAdjust="spacingAndGlyphs" stroke="#000" stroke-width="0.38">R3</text>
<text x="305.00" y="227.90" font-family='"Liberation Mono", monospace' font-size="9.2" font-weight="bold" text-anchor="start" textLength="8.90" lengthAdjust="spacingAndGlyphs" stroke="#000" stroke-width="0.38">R4</text>
<path d="M219.00 287.50L219.00 286.97L219.60 282.92L220.20 282.43L220.80 279.80L221.40 277.26L222.00 276.33L222.60 273.41L223.20 270.75L223.80 271.71L224.40 266.05L225.00 264.33L225.60 262.42L226.20 259.59L226.80 261.89L227.40 256.82L228.00 251.98L228.60 254.63L229.20 250.94L229.80 247.57L230.40 245.70L231.00 243.61L231.60 239.04L232.20 236.03L232.80 233.64L233.40 230.47L234.00 227.88L234.60 225.77L235.20 224.45L235.80 224.27L236.40 221.62L237.00 224.61L237.60 225.04L238.20 222.48L238.80 220.71L239.40 223.94L240.00 227.41L240.60 232.53L241.20 234.58L241.80 236.72L242.40 238.54L243.00 240.81L243.60 241.19L244.20 244.36L244.80 247.98L245.40 250.11L246.00 252.39L246.60 254.75L247.20 257.85L247.80 263.40L248.40 261.85L249.00 266.22L249.60 268.08L250.20 270.44L250.80 271.87L251.40 274.33L252.00 276.22L252.60 275.28L253.20 276.01L253.80 277.55L254.40 278.73L255.00 277.38L255.60 279.00L256.20 278.97L256.80 279.63L257.40 278.92L258.00 280.79L258.60 280.11L259.20 281.97L259.80 281.02L260.40 281.76L261.00 282.59L261.60 282.02L262.20 282.29L262.80 282.98L263.40 282.62L264.00 282.96L264.60 283.05L265.20 283.75L265.80 283.81L266.40 284.07L267.00 284.00L267.60 284.17L268.20 284.30L268.80 283.85L269.40 284.28L270.00 283.99L270.60 284.08L271.20 284.42L271.80 284.67L272.40 284.31L273.00 284.26L273.60 284.21L274.20 284.39L274.80 284.42L275.40 284.64L276.00 284.67L276.60 283.99L277.20 284.37L277.80 284.83L278.40 284.56L279.00 284.55L279.60 284.96L280.20 284.71L280.80 284.59L281.40 284.42L282.00 284.45L282.60 284.80L283.20 284.81L283.80 284.85L284.40 284.75L285.00 284.67L285.60 284.91L286.20 284.69L286.80 284.69L287.40 284.66L288.00 284.54L288.60 284.03L289.20 283.96L289.80 283.94L290.40 284.49L291.00 284.02L291.60 283.50L292.20 283.64L292.80 283.63L293.40 283.02L294.00 282.97L294.60 282.74L295.20 282.27L295.80 281.91L296.40 281.85L297.00 281.52L297.60 281.55L298.20 280.82L298.80 280.13L299.40 280.04L300.00 279.80L300.60 280.07L301.20 278.42L301.80 279.27L302.40 277.73L303.00 277.73L303.60 276.38L304.20 275.58L304.80 275.91L305.40 277.37L306.00 276.09L306.60 274.67L307.20 274.06L307.80 272.39L308.40 270.18L309.00 270.88L309.60 271.25L310.20 269.31L310.80 270.47L311.40 268.94L312.00 269.03L312.60 272.18L313.20 269.86L313.80 269.84L314.40 272.56L315.00 272.27L315.60 272.95L316.20 272.79L316.80 272.07L317.40 269.86L318.00 270.71L318.60 270.21L319.20 268.28L319.80 267.75L320.40 266.59L321.00 268.68L321.60 269.19L322.20 265.83L322.80 269.36L323.40 268.67L324.00 269.12L324.60 267.70L325.20 270.40L325.80 272.79L326.40 272.85L327.00 272.93L327.60 276.30L328.20 276.76L328.80 276.07L329.40 277.57L330.00 279.10L330.60 279.55L331.20 280.33L331.80 281.45L332.40 281.59L333.00 281.25L333.60 282.02L334.20 282.17L334.80 282.89L335.40 283.36L336.00 283.45L336.60 284.03L337.20 284.06L337.80 284.50L338.40 284.81L339.00 285.14L339.60 285.56L340.20 285.63L340.80 286.19L341.40 286.22L342.00 286.50L342.60 286.54L343.20 286.78L343.80 286.94L343.80 287.50Z" fill="#000" stroke="#000" stroke-width="0.5" stroke-linejoin="round"/>
<line x1="386.50" y1="196.00" x2="386.50" y2="288.00" stroke="#000" stroke-width="1.2"/>
<line x1="381.50" y1="287.50" x2="513.50" y2="287.50" stroke="#000" stroke-width="1.3"/>
<line x1="383.50" y1="196.50" x2="386.50" y2="196.50" stroke="#000" stroke-width="1.0"/>
<path d="M386.50 288.00v2.6M396.06 288.00v1.6M401.65 288.00v1.6M405.62 288.00v1.6M408.69 288.00v1.6M411.21 288.00v1.6M413.33 288.00v1.6M415.17 288.00v1.6M416.80 288.00v1.6M418.25 288.00v2.6M427.81 288.00v1.6M433.40 288.00v1.6M437.37 288.00v1.6M440.44 288.00v1.6M442.96 288.00v1.6M445.08 288.00v1.6M446.92 288.00v1.6M448.55 288.00v1.6M450.00 288.00v2.6M459.56 288.00v1.6M465.15 288.00v1.6M469.12 288.00v1.6M472.19 288.00v1.6M474.71 288.00v1.6M476.83 288.00v1.6M478.67 288.00v1.6M480.30 288.00v1.6M481.75 288.00v2.6M491.31 288.00v1.6M496.90 288.00v1.6M500.87 288.00v1.6M503.94 288.00v1.6M506.46 288.00v1.6M508.58 288.00v1.6M510.42 288.00v1.6M512.05 288.00v1.6M513.50 288.00v2.0" stroke="#000" stroke-width="0.9" fill="none"/>
<line x1="384.90" y1="278.40" x2="386.50" y2="278.40" stroke="#000" stroke-width="0.9"/>
<line x1="384.90" y1="269.30" x2="386.50" y2="269.30" stroke="#000" stroke-width="0.9"/>
<line x1="384.90" y1="260.20" x2="386.50" y2="260.20" stroke="#000" stroke-width="0.9"/>
<line x1="384.90" y1="251.10" x2="386.50" y2="251.10" stroke="#000" stroke-width="0.9"/>
<line x1="384.90" y1="242.00" x2="386.50" y2="242.00" stroke="#000" stroke-width="0.9"/>
<line x1="384.90" y1="232.90" x2="386.50" y2="232.90" stroke="#000" stroke-width="0.9"/>
<line x1="384.90" y1="223.80" x2="386.50" y2="223.80" stroke="#000" stroke-width="0.9"/>
<line x1="384.90" y1="214.70" x2="386.50" y2="214.70" stroke="#000" stroke-width="0.9"/>
<line x1="384.90" y1="205.60" x2="386.50" y2="205.60" stroke="#000" stroke-width="0.9"/>
<text x="379.90" y="296.70" font-family='"Liberation Mono", monospace' font-size="8.8" font-weight="bold" text-anchor="start" textLength="8.30" lengthAdjust="spacingAndGlyphs" stroke="#000" stroke-width="0.38">10</text>
<text x="388.40" y="294.30" font-family='"Liberation Mono", monospace' font-size="6.2" font-weight="bold" text-anchor="start" textLength="3.10" lengthAdjust="spacingAndGlyphs" stroke="#000" stroke-width="0.38">0</text>
<text x="411.65" y="296.70" font-family='"Liberation Mono", monospace' font-size="8.8" font-weight="bold" text-anchor="start" textLength="8.30" lengthAdjust="spacingAndGlyphs" stroke="#000" stroke-width="0.38">10</text>
<text x="420.15" y="294.30" font-family='"Liberation Mono", monospace' font-size="6.2" font-weight="bold" text-anchor="start" textLength="3.10" lengthAdjust="spacingAndGlyphs" stroke="#000" stroke-width="0.38">1</text>
<text x="443.40" y="296.70" font-family='"Liberation Mono", monospace' font-size="8.8" font-weight="bold" text-anchor="start" textLength="8.30" lengthAdjust="spacingAndGlyphs" stroke="#000" stroke-width="0.38">10</text>
<text x="451.90" y="294.30" font-family='"Liberation Mono", monospace' font-size="6.2" font-weight="bold" text-anchor="start" textLength="3.10" lengthAdjust="spacingAndGlyphs" stroke="#000" stroke-width="0.38">2</text>
<text x="475.15" y="296.70" font-family='"Liberation Mono", monospace' font-size="8.8" font-weight="bold" text-anchor="start" textLength="8.30" lengthAdjust="spacingAndGlyphs" stroke="#000" stroke-width="0.38">10</text>
<text x="483.65" y="294.30" font-family='"Liberation Mono", monospace' font-size="6.2" font-weight="bold" text-anchor="start" textLength="3.10" lengthAdjust="spacingAndGlyphs" stroke="#000" stroke-width="0.38">3</text>
<text x="506.90" y="296.70" font-family='"Liberation Mono", monospace' font-size="8.8" font-weight="bold" text-anchor="start" textLength="8.30" lengthAdjust="spacingAndGlyphs" stroke="#000" stroke-width="0.38">10</text>
<text x="515.40" y="294.30" font-family='"Liberation Mono", monospace' font-size="6.2" font-weight="bold" text-anchor="start" textLength="3.10" lengthAdjust="spacingAndGlyphs" stroke="#000" stroke-width="0.38">4</text>
<text x="382.50" y="201.40" font-family='"Liberation Mono", monospace' font-size="9.2" font-weight="bold" text-anchor="start" textLength="8.90" lengthAdjust="spacingAndGlyphs" transform="rotate(-90 382.50 201.40)" stroke="#000" stroke-width="0.38">40</text>
<text x="381.90" y="289.80" font-family='"Liberation Mono", monospace' font-size="9.2" font-weight="bold" text-anchor="start" textLength="4.20" lengthAdjust="spacingAndGlyphs" transform="rotate(-90 381.90 289.80)" stroke="#000" stroke-width="0.38">0</text>
<text x="455.00" y="204.80" font-family='"Liberation Mono", monospace' font-size="9.2" font-weight="bold" text-anchor="start" textLength="60.60" lengthAdjust="spacingAndGlyphs" stroke="#000" stroke-width="0.38">MINGFR, 33.7%</text>
<line x1="386.00" y1="232.50" x2="426.50" y2="232.50" stroke="#000" stroke-width="1.0"/>
<line x1="426.50" y1="228.30" x2="426.50" y2="236.70" stroke="#000" stroke-width="1.1"/>
<line x1="432.50" y1="232.50" x2="514.50" y2="232.50" stroke="#000" stroke-width="1.0"/>
<line x1="432.50" y1="228.30" x2="432.50" y2="236.70" stroke="#000" stroke-width="1.1"/>
<line x1="514.50" y1="228.30" x2="514.50" y2="236.70" stroke="#000" stroke-width="1.1"/>
<text x="414.20" y="227.90" font-family='"Liberation Mono", monospace' font-size="9.2" font-weight="bold" text-anchor="start" textLength="8.90" lengthAdjust="spacingAndGlyphs" stroke="#000" stroke-width="0.38">R3</text>
<text x="470.80" y="227.90" font-family='"Liberation Mono", monospace' font-size="9.2" font-weight="bold" text-anchor="start" textLength="8.90" lengthAdjust="spacingAndGlyphs" stroke="#000" stroke-width="0.38">R4</text>
<path d="M386.00 287.50L386.00 286.99L386.60 281.62L387.20 280.06L387.80 278.35L388.40 277.04L389.00 276.43L389.60 275.20L390.20 273.51L390.80 271.28L391.40 268.43L392.00 263.24L392.60 264.49L393.20 256.72L393.80 257.81L394.40 253.75L395.00 251.31L395.60 248.65L396.20 245.43L396.80 241.88L397.40 239.80L398.00 236.44L398.60 233.56L399.20 228.54L399.80 226.63L400.40 224.03L401.00 222.87L401.60 224.63L402.20 222.20L402.80 224.30L403.40 223.05L404.00 221.56L404.60 223.17L405.20 223.37L405.80 224.87L406.40 222.21L407.00 224.70L407.60 228.12L408.20 229.97L408.80 234.26L409.40 236.41L410.00 238.29L410.60 240.57L411.20 243.79L411.80 246.81L412.40 248.60L413.00 249.97L413.60 253.17L414.20 255.44L414.80 258.61L415.40 263.57L416.00 266.02L416.60 271.10L417.20 272.71L417.80 274.48L418.40 274.88L419.00 275.31L419.60 277.34L420.20 277.61L420.80 278.80L421.40 279.70L422.00 280.12L422.60 280.24L423.20 280.66L423.80 281.40L424.40 280.58L425.00 282.02L425.60 282.01L426.20 282.52L426.80 281.84L427.40 283.49L428.00 283.17L428.60 283.25L429.20 283.22L429.80 283.73L430.40 284.15L431.00 283.83L431.60 284.24L432.20 284.56L432.80 284.60L433.40 284.64L434.00 284.60L434.60 284.96L435.20 284.68L435.80 284.84L436.40 284.70L437.00 284.76L437.60 285.02L438.20 284.68L438.80 284.81L439.40 285.10L440.00 285.16L440.60 285.11L441.20 284.95L441.80 284.82L442.40 285.14L443.00 285.12L443.60 284.93L444.20 285.01L444.80 285.01L445.40 285.02L446.00 285.05L446.60 284.74L447.20 284.86L447.80 285.06L448.40 284.73L449.00 284.50L449.60 284.61L450.20 284.51L450.80 284.54L451.40 284.30L452.00 284.16L452.60 283.82L453.20 284.10L453.80 283.96L454.40 283.38L455.00 282.83L455.60 283.20L456.20 282.35L456.80 282.23L457.40 282.03L458.00 281.27L458.60 280.54L459.20 281.23L459.80 279.86L460.40 279.27L461.00 278.05L461.60 277.62L462.20 277.24L462.80 275.45L463.40 275.02L464.00 275.51L464.60 275.71L465.20 274.10L465.80 272.72L466.40 271.58L467.00 272.21L467.60 271.44L468.20 272.30L468.80 270.48L469.40 269.45L470.00 269.78L470.60 268.82L471.20 269.41L471.80 268.21L472.40 264.83L473.00 265.53L473.60 261.35L474.20 258.90L474.80 263.73L475.40 265.65L476.00 268.09L476.60 269.09L477.20 268.68L477.80 269.91L478.40 269.17L479.00 269.52L479.60 269.94L480.20 268.38L480.80 267.02L481.40 266.75L482.00 267.44L482.60 266.53L483.20 267.26L483.80 265.64L484.40 265.37L485.00 266.18L485.60 266.43L486.20 269.91L486.80 264.93L487.40 265.05L488.00 262.09L488.60 265.10L489.20 264.84L489.80 267.71L490.40 270.45L491.00 270.78L491.60 273.32L492.20 274.58L492.80 275.63L493.40 276.95L494.00 278.51L494.60 279.76L495.20 281.62L495.80 281.46L496.40 282.93L497.00 283.50L497.60 283.81L498.20 284.17L498.80 283.94L499.40 284.51L500.00 284.62L500.60 284.47L501.20 285.26L501.80 285.35L502.40 285.19L503.00 285.56L503.60 285.47L504.20 285.61L504.80 285.71L505.40 285.64L506.00 285.83L506.60 285.87L507.20 285.84L507.80 286.01L508.40 286.09L509.00 286.16L509.60 286.08L510.20 286.17L510.80 286.38L511.40 286.64L512.00 286.78L512.60 286.94L512.60 287.50Z" fill="#000" stroke="#000" stroke-width="0.5" stroke-linejoin="round"/>
<line x1="23.30" y1="299.00" x2="23.30" y2="196.20" stroke="#000" stroke-width="1.4"/>
<path d="M23.30 186.20L20.40 197.20L26.20 197.20Z" fill="#000"/>
</g>
<text x="11.00" y="302.80" font-family='"Liberation Sans", sans-serif' font-size="12.6" font-weight="bold" text-anchor="start" textLength="111.00" lengthAdjust="spacingAndGlyphs" transform="rotate(-90 11.00 302.80)" stroke="#000" stroke-width="0.25"># of CD34+Lin- cells</text>
<line x1="75.00" y1="316.60" x2="425.50" y2="318.50" stroke="#000" stroke-width="1.4"/>
<path d="M436.00 318.50L424.50 315.30L424.50 321.70Z" fill="#000"/>
<text x="199.40" y="334.80" font-family='"Liberation Sans", sans-serif' font-size="13.7" font-weight="bold" text-anchor="start" textLength="124.60" lengthAdjust="spacingAndGlyphs" stroke="#000" stroke-width="0.25">NGFR reporter - PE</text>
<path d="M63 40.5h1M63 41.5h1M63 46.5h1M63 56.5h1M64 37.5h1M64 40.5h1M64 43.5h1M64 48.5h1M65 37.5h1M65 39.5h1M65 51.5h1M66 26.5h1M66 39.5h1M66 46.5h1M66 69.5h1M66 96.5h1M66 115.5h1M67 34.5h1M67 40.5h1M67 42.5h1M67 60.5h1M68 39.5h1M68 40.5h1M68 48.5h1M68 50.5h1M68 52.5h1M69 34.5h1M69 36.5h1M69 38.5h1M69 40.5h1M69 41.5h1M69 42.5h1M69 45.5h1M69 46.5h1M69 48.5h1M69 56.5h1M69 58.5h1M69 62.5h1M69 65.5h1M69 92.5h1M70 34.5h1M70 35.5h1M70 37.5h1M70 38.5h1M70 40.5h1M70 42.5h1M70 43.5h1M70 46.5h1M70 47.5h1M70 48.5h1M70 49.5h1M70 52.5h1M70 55.5h1M70 57.5h1M70 64.5h1M71 32.5h1M71 36.5h1M71 37.5h1M71 38.5h1M71 40.5h1M71 41.5h1M71 42.5h1M71 43.5h1M71 44.5h1M71 46.5h1M71 47.5h1M71 48.5h1M71 49.5h1M71 50.5h1M71 60.5h1M71 61.5h1M72 31.5h1M72 32.5h1M72 33.5h1M72 36.5h1M72 37.5h1M72 38.5h1M72 39.5h1M72 40.5h1M72 41.5h1M72 42.5h1M72 43.5h1M72 44.5h1M72 45.5h1M72 46.5h1M72 47.5h1M72 48.5h1M72 49.5h1M72 51.5h1M72 57.5h1M72 61.5h1M72 68.5h1M72 69.5h1M72 98.5h1M73 32.5h1M73 33.5h1M73 34.5h1M73 35.5h1M73 36.5h1M73 37.5h1M73 38.5h1M73 39.5h1M73 40.5h1M73 41.5h1M73 42.5h1M73 43.5h1M73 44.5h1M73 45.5h1M73 46.5h1M73 47.5h1M73 48.5h1M73 49.5h1M73 50.5h1M73 51.5h1M73 52.5h1M73 55.5h1M74 33.5h1M74 34.5h1M74 35.5h1M74 36.5h1M74 37.5h1M74 38.5h1M74 39.5h1M74 40.5h1M74 41.5h1M74 42.5h1M74 43.5h1M74 44.5h1M74 45.5h1M74 46.5h1M74 47.5h1M74 48.5h1M74 49.5h1M74 50.5h1M74 51.5h1M74 52.5h1M74 53.5h1M74 54.5h1M74 60.5h1M74 61.5h1M74 65.5h1M74 72.5h1M74 87.5h1M75 32.5h1M75 33.5h1M75 35.5h1M75 36.5h1M75 37.5h1M75 38.5h1M75 39.5h1M75 40.5h1M75 41.5h1M75 42.5h1M75 43.5h1M75 44.5h1M75 45.5h1M75 46.5h1M75 47.5h1M75 48.5h1M75 49.5h1M75 50.5h1M75 52.5h1M75 53.5h1M75 56.5h1M75 58.5h1M75 59.5h1M75 63.5h1M75 65.5h1M75 69.5h1M75 74.5h1M75 100.5h1M76 30.5h1M76 32.5h1M76 33.5h1M76 34.5h1M76 35.5h1M76 36.5h1M76 37.5h1M76 38.5h1M76 39.5h1M76 40.5h1M76 41.5h1M76 42.5h1M76 43.5h1M76 44.5h1M76 45.5h1M76 46.5h1M76 47.5h1M76 48.5h1M76 49.5h1M76 51.5h1M76 52.5h1M76 54.5h1M76 57.5h1M76 58.5h1M76 59.5h1M76 66.5h1M76 69.5h1M76 79.5h1M77 25.5h1M77 29.5h1M77 30.5h1M77 32.5h1M77 33.5h1M77 34.5h1M77 35.5h1M77 36.5h1M77 37.5h1M77 38.5h1M77 39.5h1M77 40.5h1M77 41.5h1M77 42.5h1M77 43.5h1M77 44.5h1M77 45.5h1M77 46.5h1M77 47.5h1M77 48.5h1M77 50.5h1M77 51.5h1M77 52.5h1M77 53.5h1M77 54.5h1M77 55.5h1M77 56.5h1M77 58.5h1M77 59.5h1M77 63.5h1M77 65.5h1M77 66.5h1M77 67.5h1M77 71.5h1M78 26.5h1M78 28.5h1M78 32.5h1M78 33.5h1M78 34.5h1M78 35.5h1M78 36.5h1M78 37.5h1M78 38.5h1M78 39.5h1M78 40.5h1M78 41.5h1M78 42.5h1M78 43.5h1M78 44.5h1M78 45.5h1M78 46.5h1M78 47.5h1M78 48.5h1M78 49.5h1M78 50.5h1M78 51.5h1M78 52.5h1M78 54.5h1M78 55.5h1M78 56.5h1M78 58.5h1M78 59.5h1M78 62.5h1M78 63.5h1M78 66.5h1M78 77.5h1M78 103.5h1M79 30.5h1M79 31.5h1M79 32.5h1M79 33.5h1M79 34.5h1M79 35.5h1M79 36.5h1M79 37.5h1M79 38.5h1M79 39.5h1M79 40.5h1M79 41.5h1M79 42.5h1M79 43.5h1M79 44.5h1M79 45.5h1M79 46.5h1M79 47.5h1M79 48.5h1M79 49.5h1M79 50.5h1M79 52.5h1M79 53.5h1M79 54.5h1M79 56.5h1M79 57.5h1M79 58.5h1M79 60.5h1M79 62.5h1M79 67.5h1M79 70.5h1M79 71.5h1M79 76.5h1M79 79.5h1M80 31.5h1M80 32.5h1M80 33.5h1M80 34.5h1M80 35.5h1M80 36.5h1M80 37.5h1M80 38.5h1M80 39.5h1M80 40.5h1M80 41.5h1M80 42.5h1M80 43.5h1M80 44.5h1M80 45.5h1M80 46.5h1M80 47.5h1M80 48.5h1M80 49.5h1M80 50.5h1M80 51.5h1M80 52.5h1M80 53.5h1M80 54.5h1M80 55.5h1M80 58.5h1M80 59.5h1M80 60.5h1M80 62.5h1M80 63.5h1M80 64.5h1M80 65.5h1M80 67.5h1M80 68.5h1M80 70.5h1M80 71.5h1M80 73.5h1M80 83.5h1M80 100.5h1M81 28.5h1M81 30.5h1M81 31.5h1M81 33.5h1M81 34.5h1M81 35.5h1M81 36.5h1M81 37.5h1M81 38.5h1M81 39.5h1M81 40.5h1M81 41.5h1M81 42.5h1M81 43.5h1M81 44.5h1M81 45.5h1M81 46.5h1M81 47.5h1M81 48.5h1M81 49.5h1M81 50.5h1M81 51.5h1M81 52.5h1M81 53.5h1M81 54.5h1M81 55.5h1M81 57.5h1M81 58.5h1M81 59.5h1M81 60.5h1M81 63.5h1M81 64.5h1M81 65.5h1M81 69.5h1M81 70.5h1M81 71.5h1M82 30.5h1M82 33.5h1M82 34.5h1M82 35.5h1M82 36.5h1M82 37.5h1M82 38.5h1M82 39.5h1M82 40.5h1M82 41.5h1M82 42.5h1M82 43.5h1M82 44.5h1M82 45.5h1M82 46.5h1M82 47.5h1M82 48.5h1M82 49.5h1M82 50.5h1M82 51.5h1M82 52.5h1M82 54.5h1M82 55.5h1M82 58.5h1M82 60.5h1M82 61.5h1M82 62.5h1M82 63.5h1M82 64.5h1M82 67.5h1M82 68.5h1M82 70.5h1M82 72.5h1M83 28.5h1M83 29.5h1M83 33.5h1M83 36.5h1M83 37.5h1M83 38.5h1M83 39.5h1M83 40.5h1M83 41.5h1M83 42.5h1M83 43.5h1M83 44.5h1M83 45.5h1M83 46.5h1M83 47.5h1M83 48.5h1M83 49.5h1M83 50.5h1M83 51.5h1M83 52.5h1M83 53.5h1M83 54.5h1M83 55.5h1M83 56.5h1M83 57.5h1M83 59.5h1M83 61.5h1M83 63.5h1M83 65.5h1M83 66.5h1M83 67.5h1M83 68.5h1M83 71.5h1M83 74.5h1M83 76.5h1M84 33.5h1M84 34.5h1M84 35.5h1M84 36.5h1M84 37.5h1M84 38.5h1M84 39.5h1M84 40.5h1M84 41.5h1M84 42.5h1M84 43.5h1M84 44.5h1M84 45.5h1M84 46.5h1M84 47.5h1M84 48.5h1M84 49.5h1M84 50.5h1M84 51.5h1M84 52.5h1M84 53.5h1M84 54.5h1M84 55.5h1M84 58.5h1M84 59.5h1M84 60.5h1M84 61.5h1M84 63.5h1M84 64.5h1M84 65.5h1M84 66.5h1M84 67.5h1M84 68.5h1M84 71.5h1M84 72.5h1M84 73.5h1M84 76.5h1M84 78.5h1M84 88.5h1M85 30.5h1M85 32.5h1M85 35.5h1M85 36.5h1M85 37.5h1M85 38.5h1M85 39.5h1M85 40.5h1M85 41.5h1M85 42.5h1M85 43.5h1M85 44.5h1M85 45.5h1M85 46.5h1M85 47.5h1M85 48.5h1M85 49.5h1M85 50.5h1M85 51.5h1M85 52.5h1M85 53.5h1M85 54.5h1M85 55.5h1M85 56.5h1M85 57.5h1M85 58.5h1M85 59.5h1M85 60.5h1M85 61.5h1M85 63.5h1M85 64.5h1M85 65.5h1M85 66.5h1M85 67.5h1M85 69.5h1M85 70.5h1M85 71.5h1M85 74.5h1M85 76.5h1M86 29.5h1M86 30.5h1M86 31.5h1M86 34.5h1M86 35.5h1M86 36.5h1M86 37.5h1M86 38.5h1M86 39.5h1M86 40.5h1M86 41.5h1M86 42.5h1M86 43.5h1M86 44.5h1M86 45.5h1M86 46.5h1M86 48.5h1M86 49.5h1M86 50.5h1M86 51.5h1M86 52.5h1M86 53.5h1M86 54.5h1M86 56.5h1M86 58.5h1M86 59.5h1M86 60.5h1M86 61.5h1M86 63.5h1M86 64.5h1M86 66.5h1M86 67.5h1M86 68.5h1M86 70.5h1M86 72.5h1M87 31.5h1M87 32.5h1M87 33.5h1M87 34.5h1M87 35.5h1M87 36.5h1M87 37.5h1M87 38.5h1M87 39.5h1M87 41.5h1M87 42.5h1M87 44.5h1M87 45.5h1M87 46.5h1M87 47.5h1M87 49.5h1M87 50.5h1M87 51.5h1M87 52.5h1M87 53.5h1M87 55.5h1M87 56.5h1M87 57.5h1M87 58.5h1M87 60.5h1M87 61.5h1M87 62.5h1M87 63.5h1M87 65.5h1M87 66.5h1M87 67.5h1M87 68.5h1M87 69.5h1M87 70.5h1M87 71.5h1M87 72.5h1M87 73.5h1M87 74.5h1M87 75.5h1M87 80.5h1M88 33.5h1M88 35.5h1M88 38.5h1M88 39.5h1M88 41.5h1M88 42.5h1M88 43.5h1M88 44.5h1M88 45.5h1M88 46.5h1M88 47.5h1M88 48.5h1M88 49.5h1M88 50.5h1M88 51.5h1M88 52.5h1M88 54.5h1M88 55.5h1M88 57.5h1M88 58.5h1M88 59.5h1M88 60.5h1M88 61.5h1M88 62.5h1M88 64.5h1M88 65.5h1M88 66.5h1M88 67.5h1M88 68.5h1M88 69.5h1M88 71.5h1M88 72.5h1M88 75.5h1M88 76.5h1M88 77.5h1M88 82.5h1M89 35.5h1M89 36.5h1M89 37.5h1M89 38.5h1M89 39.5h1M89 40.5h1M89 41.5h1M89 42.5h1M89 43.5h1M89 44.5h1M89 45.5h1M89 46.5h1M89 48.5h1M89 49.5h1M89 50.5h1M89 51.5h1M89 52.5h1M89 54.5h1M89 55.5h1M89 56.5h1M89 57.5h1M89 58.5h1M89 63.5h1M89 64.5h1M89 65.5h1M89 66.5h1M89 67.5h1M89 68.5h1M89 69.5h1M89 70.5h1M89 72.5h1M89 74.5h1M89 77.5h1M90 37.5h1M90 38.5h1M90 39.5h1M90 40.5h1M90 41.5h1M90 42.5h1M90 43.5h1M90 44.5h1M90 45.5h1M90 46.5h1M90 47.5h1M90 48.5h1M90 49.5h1M90 51.5h1M90 52.5h1M90 53.5h1M90 54.5h1M90 56.5h1M90 57.5h1M90 59.5h1M90 60.5h1M90 62.5h1M90 63.5h1M90 64.5h1M90 65.5h1M90 66.5h1M90 67.5h1M90 68.5h1M90 74.5h1M90 75.5h1M91 35.5h1M91 38.5h1M91 39.5h1M91 40.5h1M91 41.5h1M91 45.5h1M91 47.5h1M91 50.5h1M91 52.5h1M91 53.5h1M91 54.5h1M91 55.5h1M91 56.5h1M91 57.5h1M91 58.5h1M91 59.5h1M91 61.5h1M91 62.5h1M91 63.5h1M91 64.5h1M91 66.5h1M91 69.5h1M91 70.5h1M91 71.5h1M91 73.5h1M91 83.5h1M92 37.5h1M92 38.5h1M92 42.5h1M92 44.5h1M92 46.5h1M92 47.5h1M92 48.5h1M92 50.5h1M92 52.5h1M92 53.5h1M92 54.5h1M92 55.5h1M92 56.5h1M92 57.5h1M92 58.5h1M92 59.5h1M92 60.5h1M92 61.5h1M92 64.5h1M92 65.5h1M92 66.5h1M92 67.5h1M92 72.5h1M92 73.5h1M92 74.5h1M92 76.5h1M92 79.5h1M93 34.5h1M93 36.5h1M93 38.5h1M93 43.5h1M93 44.5h1M93 46.5h1M93 47.5h1M93 50.5h1M93 51.5h1M93 52.5h1M93 54.5h1M93 55.5h1M93 56.5h1M93 57.5h1M93 59.5h1M93 60.5h1M93 61.5h1M93 63.5h1M93 64.5h1M93 67.5h1M93 74.5h1M93 79.5h1M94 46.5h1M94 50.5h1M94 51.5h1M94 53.5h1M94 54.5h1M94 55.5h1M94 56.5h1M94 57.5h1M94 58.5h1M94 59.5h1M94 60.5h1M94 61.5h1M94 62.5h1M94 64.5h1M94 66.5h1M94 69.5h1M94 71.5h1M95 30.5h1M95 35.5h1M95 42.5h1M95 48.5h1M95 50.5h1M95 51.5h1M95 52.5h1M95 53.5h1M95 55.5h1M95 56.5h1M95 57.5h1M95 59.5h1M95 60.5h1M95 61.5h1M95 62.5h1M95 63.5h1M95 64.5h1M95 66.5h1M95 67.5h1M95 73.5h1M95 81.5h1M96 25.5h1M96 40.5h1M96 49.5h1M96 50.5h1M96 51.5h1M96 52.5h1M96 54.5h1M96 58.5h1M96 59.5h1M96 60.5h1M96 63.5h1M96 69.5h1M96 71.5h1M97 36.5h1M97 45.5h1M97 47.5h1M97 49.5h1M97 50.5h1M97 51.5h1M97 52.5h1M97 54.5h1M97 55.5h1M97 56.5h1M97 57.5h1M97 59.5h1M97 60.5h1M97 65.5h1M97 68.5h1M97 70.5h1M97 71.5h1M97 73.5h1M98 36.5h1M98 41.5h1M98 45.5h1M98 47.5h1M98 48.5h1M98 49.5h1M98 50.5h1M98 51.5h1M98 53.5h1M98 57.5h1M98 59.5h1M98 61.5h1M98 62.5h1M98 70.5h1M99 46.5h1M99 55.5h1M99 57.5h1M99 60.5h1M99 61.5h1M99 63.5h1M99 64.5h1M99 72.5h1M100 47.5h1M100 48.5h1M100 50.5h1M100 54.5h1M100 56.5h1M100 57.5h1M100 59.5h1M100 60.5h1M100 63.5h1M100 64.5h1M100 65.5h1M100 70.5h1M100 73.5h1M101 46.5h1M101 47.5h1M101 48.5h1M101 49.5h1M101 50.5h1M101 52.5h1M101 53.5h1M101 56.5h1M101 59.5h1M101 60.5h1M101 67.5h1M101 69.5h1M101 72.5h1M101 75.5h1M101 109.5h1M102 23.5h1M102 43.5h1M102 45.5h1M102 49.5h1M102 50.5h1M102 51.5h1M102 53.5h1M102 55.5h1M102 56.5h1M102 57.5h1M102 59.5h1M102 60.5h1M102 61.5h1M102 64.5h1M102 67.5h1M102 69.5h1M102 70.5h1M103 45.5h1M103 48.5h1M103 49.5h1M103 50.5h1M103 51.5h1M103 55.5h1M103 58.5h1M103 60.5h1M103 61.5h1M103 63.5h1M103 64.5h1M103 66.5h1M103 68.5h1M103 70.5h1M103 78.5h1M103 114.5h1M104 51.5h1M104 52.5h1M104 54.5h1M104 55.5h1M104 58.5h1M104 59.5h1M104 60.5h1M104 61.5h1M104 62.5h1M104 63.5h1M104 64.5h1M104 67.5h1M104 68.5h1M104 70.5h1M105 39.5h1M105 48.5h1M105 53.5h1M105 54.5h1M105 62.5h1M105 63.5h1M105 66.5h1M105 68.5h1M105 78.5h1M106 46.5h1M106 49.5h1M106 50.5h1M106 52.5h1M106 54.5h1M106 55.5h1M106 56.5h1M106 57.5h1M106 58.5h1M106 59.5h1M106 60.5h1M106 62.5h1M106 63.5h1M106 65.5h1M106 66.5h1M106 67.5h1M106 68.5h1M106 70.5h1M106 73.5h1M107 47.5h1M107 51.5h1M107 53.5h1M107 56.5h1M107 57.5h1M107 58.5h1M107 60.5h1M107 62.5h1M107 63.5h1M107 66.5h1M107 67.5h1M107 68.5h1M107 69.5h1M107 71.5h1M107 74.5h1M107 111.5h1M108 39.5h1M108 51.5h1M108 52.5h1M108 53.5h1M108 56.5h1M108 59.5h1M108 60.5h1M108 61.5h1M108 64.5h1M108 66.5h1M108 67.5h1M108 68.5h1M108 69.5h1M108 70.5h1M108 75.5h1M109 44.5h1M109 51.5h1M109 52.5h1M109 53.5h1M109 55.5h1M109 56.5h1M109 58.5h1M109 59.5h1M109 60.5h1M109 61.5h1M109 62.5h1M109 63.5h1M109 64.5h1M109 65.5h1M109 66.5h1M109 67.5h1M109 68.5h1M109 71.5h1M109 72.5h1M110 47.5h1M110 51.5h1M110 53.5h1M110 54.5h1M110 56.5h1M110 58.5h1M110 60.5h1M110 61.5h1M110 65.5h1M110 67.5h1M110 69.5h1M110 71.5h1M110 75.5h1M111 48.5h1M111 51.5h1M111 52.5h1M111 55.5h1M111 58.5h1M111 61.5h1M111 62.5h1M111 63.5h1M111 64.5h1M111 65.5h1M111 67.5h1M111 69.5h1M111 70.5h1M111 77.5h1M112 53.5h1M112 54.5h1M112 56.5h1M112 57.5h1M112 59.5h1M112 60.5h1M112 61.5h1M112 62.5h1M112 63.5h1M112 64.5h1M112 65.5h1M112 66.5h1M112 67.5h1M112 68.5h1M112 70.5h1M112 71.5h1M112 74.5h1M112 75.5h1M113 51.5h1M113 53.5h1M113 54.5h1M113 56.5h1M113 57.5h1M113 58.5h1M113 59.5h1M113 63.5h1M113 64.5h1M113 66.5h1M113 68.5h1M113 69.5h1M113 70.5h1M113 72.5h1M113 73.5h1M113 74.5h1M114 41.5h1M114 46.5h1M114 59.5h1M114 61.5h1M114 62.5h1M114 63.5h1M114 64.5h1M114 65.5h1M114 67.5h1M114 69.5h1M114 70.5h1M114 72.5h1M114 73.5h1M114 75.5h1M114 77.5h1M114 80.5h1M115 54.5h1M115 58.5h1M115 60.5h1M115 62.5h1M115 64.5h1M115 65.5h1M115 66.5h1M115 68.5h1M115 69.5h1M115 70.5h1M115 74.5h1M115 77.5h1M116 46.5h1M116 47.5h1M116 56.5h1M116 58.5h1M116 59.5h1M116 61.5h1M116 63.5h1M116 64.5h1M116 65.5h1M116 67.5h1M116 68.5h1M116 69.5h1M116 74.5h1M116 78.5h1M116 82.5h1M117 59.5h1M117 61.5h1M117 62.5h1M117 63.5h1M117 65.5h1M117 67.5h1M117 68.5h1M117 69.5h1M117 70.5h1M117 71.5h1M117 73.5h1M117 74.5h1M117 75.5h1M117 76.5h1M117 79.5h1M118 51.5h1M118 57.5h1M118 59.5h1M118 63.5h1M118 64.5h1M118 65.5h1M118 66.5h1M118 67.5h1M118 68.5h1M118 69.5h1M118 70.5h1M118 71.5h1M118 73.5h1M118 74.5h1M118 75.5h1M118 76.5h1M118 77.5h1M118 79.5h1M118 80.5h1M118 115.5h1M119 52.5h1M119 53.5h1M119 60.5h1M119 61.5h1M119 63.5h1M119 65.5h1M119 68.5h1M119 69.5h1M119 70.5h1M119 71.5h1M119 72.5h1M119 74.5h1M119 75.5h1M119 76.5h1M119 77.5h1M119 78.5h1M119 79.5h1M119 83.5h1M120 51.5h1M120 57.5h1M120 59.5h1M120 62.5h1M120 63.5h1M120 64.5h1M120 65.5h1M120 66.5h1M120 70.5h1M120 71.5h1M120 73.5h1M120 75.5h1M120 81.5h1M120 82.5h1M120 85.5h1M121 66.5h1M121 67.5h1M121 68.5h1M121 69.5h1M121 70.5h1M121 72.5h1M121 73.5h1M121 75.5h1M121 76.5h1M121 77.5h1M121 78.5h1M121 81.5h1M121 89.5h1M122 59.5h1M122 60.5h1M122 63.5h1M122 67.5h1M122 69.5h1M122 70.5h1M122 71.5h1M122 72.5h1M122 74.5h1M122 76.5h1M122 77.5h1M122 78.5h1M122 79.5h1M122 80.5h1M122 81.5h1M122 82.5h1M122 87.5h1M123 62.5h1M123 67.5h1M123 68.5h1M123 70.5h1M123 73.5h1M123 74.5h1M123 76.5h1M123 77.5h1M123 78.5h1M123 83.5h1M123 85.5h1M123 87.5h1M123 88.5h1M123 94.5h1M124 18.5h1M124 56.5h1M124 61.5h1M124 62.5h1M124 63.5h1M124 69.5h1M124 70.5h1M124 71.5h1M124 72.5h1M124 73.5h1M124 74.5h1M124 79.5h1M124 80.5h1M124 81.5h1M124 83.5h1M124 87.5h1M124 88.5h1M125 57.5h1M125 60.5h1M125 64.5h1M125 65.5h1M125 66.5h1M125 67.5h1M125 70.5h1M125 71.5h1M125 72.5h1M125 76.5h1M125 77.5h1M125 78.5h1M125 79.5h1M125 81.5h1M125 83.5h1M125 86.5h1M126 56.5h1M126 67.5h1M126 69.5h1M126 72.5h1M126 73.5h1M126 74.5h1M126 75.5h1M126 76.5h1M126 77.5h1M126 80.5h1M126 83.5h1M126 87.5h1M126 89.5h1M126 90.5h1M127 64.5h1M127 67.5h1M127 69.5h1M127 77.5h1M127 79.5h1M127 80.5h1M127 87.5h1M128 42.5h1M128 72.5h1M128 75.5h1M128 78.5h1M128 79.5h1M128 80.5h1M128 83.5h1M128 84.5h1M128 85.5h1M129 54.5h1M129 71.5h1M129 72.5h1M129 74.5h1M129 75.5h1M129 76.5h1M129 77.5h1M129 78.5h1M129 80.5h1M129 81.5h1M129 82.5h1M129 83.5h1M129 85.5h1M129 86.5h1M129 90.5h1M130 64.5h1M130 66.5h1M130 67.5h1M130 68.5h1M130 74.5h1M130 77.5h1M130 78.5h1M130 80.5h1M130 85.5h1M131 70.5h1M131 72.5h1M131 75.5h1M131 76.5h1M131 77.5h1M131 79.5h1M131 81.5h1M131 83.5h1M131 86.5h1M132 69.5h1M132 72.5h1M132 75.5h1M132 77.5h1M132 82.5h1M132 84.5h1M133 70.5h1M133 74.5h1M133 76.5h1M133 81.5h1M133 84.5h1M133 86.5h1M134 71.5h1M135 68.5h1M135 70.5h1M135 78.5h1M135 82.5h1M136 63.5h1M136 66.5h1M136 75.5h1M136 77.5h1M136 80.5h1M137 70.5h1M137 77.5h1M138 81.5h1M140 78.5h1" stroke="#000" stroke-width="1" fill="none" shape-rendering="crispEdges"/>
<path d="M227 37.5h1M227 41.5h1M227 56.5h1M228 27.5h1M228 32.5h1M228 44.5h1M228 49.5h1M228 70.5h1M229 29.5h1M229 41.5h1M229 44.5h1M230 39.5h1M230 48.5h1M230 50.5h1M230 54.5h1M230 61.5h1M231 42.5h1M231 51.5h1M231 61.5h1M231 62.5h1M232 32.5h1M232 39.5h1M232 43.5h1M232 45.5h1M232 46.5h1M232 47.5h1M232 50.5h1M232 54.5h1M232 60.5h1M233 29.5h1M233 36.5h1M233 42.5h1M233 44.5h1M233 45.5h1M233 47.5h1M233 49.5h1M233 50.5h1M233 51.5h1M234 29.5h1M234 30.5h1M234 33.5h1M234 38.5h1M234 40.5h1M234 42.5h1M234 43.5h1M234 52.5h1M234 54.5h1M234 55.5h1M234 64.5h1M234 75.5h1M235 29.5h1M235 32.5h1M235 37.5h1M235 38.5h1M235 39.5h1M235 40.5h1M235 42.5h1M235 43.5h1M235 44.5h1M235 45.5h1M235 46.5h1M235 47.5h1M235 48.5h1M235 49.5h1M235 51.5h1M235 58.5h1M236 17.5h1M236 26.5h1M236 28.5h1M236 32.5h1M236 33.5h1M236 35.5h1M236 36.5h1M236 40.5h1M236 43.5h1M236 44.5h1M236 46.5h1M236 47.5h1M236 48.5h1M236 49.5h1M236 50.5h1M236 51.5h1M236 52.5h1M236 53.5h1M236 57.5h1M236 62.5h1M236 63.5h1M236 89.5h1M237 30.5h1M237 34.5h1M237 37.5h1M237 38.5h1M237 39.5h1M237 40.5h1M237 41.5h1M237 42.5h1M237 43.5h1M237 44.5h1M237 45.5h1M237 46.5h1M237 47.5h1M237 48.5h1M237 49.5h1M237 50.5h1M237 51.5h1M237 53.5h1M237 54.5h1M237 55.5h1M237 57.5h1M238 32.5h1M238 35.5h1M238 37.5h1M238 38.5h1M238 39.5h1M238 40.5h1M238 41.5h1M238 42.5h1M238 43.5h1M238 44.5h1M238 45.5h1M238 46.5h1M238 48.5h1M238 49.5h1M238 50.5h1M238 51.5h1M238 52.5h1M238 53.5h1M238 54.5h1M238 55.5h1M238 56.5h1M238 58.5h1M238 59.5h1M238 64.5h1M238 65.5h1M238 70.5h1M239 29.5h1M239 32.5h1M239 33.5h1M239 34.5h1M239 35.5h1M239 36.5h1M239 37.5h1M239 38.5h1M239 39.5h1M239 40.5h1M239 41.5h1M239 42.5h1M239 43.5h1M239 45.5h1M239 46.5h1M239 47.5h1M239 48.5h1M239 49.5h1M239 50.5h1M239 51.5h1M239 54.5h1M239 55.5h1M239 56.5h1M239 57.5h1M239 62.5h1M239 68.5h1M239 71.5h1M239 81.5h1M239 97.5h1M240 26.5h1M240 31.5h1M240 33.5h1M240 35.5h1M240 36.5h1M240 37.5h1M240 38.5h1M240 39.5h1M240 40.5h1M240 41.5h1M240 42.5h1M240 43.5h1M240 44.5h1M240 45.5h1M240 46.5h1M240 47.5h1M240 48.5h1M240 49.5h1M240 51.5h1M240 52.5h1M240 53.5h1M240 54.5h1M240 55.5h1M240 56.5h1M240 60.5h1M240 61.5h1M240 67.5h1M240 68.5h1M240 72.5h1M241 23.5h1M241 30.5h1M241 32.5h1M241 34.5h1M241 35.5h1M241 36.5h1M241 38.5h1M241 40.5h1M241 41.5h1M241 42.5h1M241 43.5h1M241 44.5h1M241 45.5h1M241 46.5h1M241 47.5h1M241 48.5h1M241 49.5h1M241 50.5h1M241 51.5h1M241 52.5h1M241 53.5h1M241 54.5h1M241 56.5h1M241 58.5h1M241 60.5h1M241 62.5h1M241 63.5h1M241 84.5h1M242 26.5h1M242 31.5h1M242 35.5h1M242 36.5h1M242 37.5h1M242 38.5h1M242 39.5h1M242 40.5h1M242 41.5h1M242 42.5h1M242 43.5h1M242 44.5h1M242 45.5h1M242 46.5h1M242 47.5h1M242 48.5h1M242 49.5h1M242 50.5h1M242 51.5h1M242 53.5h1M242 54.5h1M242 56.5h1M242 57.5h1M242 58.5h1M242 62.5h1M242 63.5h1M242 65.5h1M242 67.5h1M242 71.5h1M242 72.5h1M243 27.5h1M243 34.5h1M243 35.5h1M243 36.5h1M243 37.5h1M243 38.5h1M243 39.5h1M243 40.5h1M243 41.5h1M243 42.5h1M243 43.5h1M243 44.5h1M243 45.5h1M243 46.5h1M243 47.5h1M243 48.5h1M243 49.5h1M243 50.5h1M243 51.5h1M243 52.5h1M243 53.5h1M243 54.5h1M243 55.5h1M243 58.5h1M243 60.5h1M243 63.5h1M243 66.5h1M243 67.5h1M243 72.5h1M244 25.5h1M244 29.5h1M244 31.5h1M244 32.5h1M244 33.5h1M244 34.5h1M244 35.5h1M244 36.5h1M244 37.5h1M244 38.5h1M244 39.5h1M244 40.5h1M244 41.5h1M244 42.5h1M244 43.5h1M244 44.5h1M244 45.5h1M244 46.5h1M244 47.5h1M244 48.5h1M244 49.5h1M244 50.5h1M244 51.5h1M244 52.5h1M244 53.5h1M244 54.5h1M244 56.5h1M244 57.5h1M244 58.5h1M244 60.5h1M244 61.5h1M244 62.5h1M244 64.5h1M244 74.5h1M245 25.5h1M245 28.5h1M245 31.5h1M245 32.5h1M245 33.5h1M245 34.5h1M245 35.5h1M245 37.5h1M245 38.5h1M245 39.5h1M245 40.5h1M245 41.5h1M245 42.5h1M245 43.5h1M245 44.5h1M245 45.5h1M245 46.5h1M245 47.5h1M245 48.5h1M245 49.5h1M245 50.5h1M245 51.5h1M245 52.5h1M245 53.5h1M245 54.5h1M245 55.5h1M245 57.5h1M245 60.5h1M245 64.5h1M245 66.5h1M245 70.5h1M246 22.5h1M246 23.5h1M246 31.5h1M246 34.5h1M246 36.5h1M246 37.5h1M246 38.5h1M246 39.5h1M246 40.5h1M246 41.5h1M246 42.5h1M246 43.5h1M246 44.5h1M246 45.5h1M246 46.5h1M246 47.5h1M246 48.5h1M246 49.5h1M246 50.5h1M246 51.5h1M246 52.5h1M246 53.5h1M246 54.5h1M246 55.5h1M246 56.5h1M246 57.5h1M246 58.5h1M246 60.5h1M246 62.5h1M246 70.5h1M246 79.5h1M247 30.5h1M247 31.5h1M247 32.5h1M247 33.5h1M247 34.5h1M247 35.5h1M247 36.5h1M247 37.5h1M247 38.5h1M247 39.5h1M247 40.5h1M247 41.5h1M247 42.5h1M247 43.5h1M247 44.5h1M247 45.5h1M247 46.5h1M247 47.5h1M247 48.5h1M247 49.5h1M247 50.5h1M247 51.5h1M247 52.5h1M247 53.5h1M247 54.5h1M247 56.5h1M247 57.5h1M247 58.5h1M247 59.5h1M247 60.5h1M247 61.5h1M247 65.5h1M247 66.5h1M247 67.5h1M247 68.5h1M247 69.5h1M247 72.5h1M248 26.5h1M248 29.5h1M248 30.5h1M248 33.5h1M248 35.5h1M248 36.5h1M248 37.5h1M248 38.5h1M248 39.5h1M248 40.5h1M248 41.5h1M248 42.5h1M248 43.5h1M248 44.5h1M248 45.5h1M248 46.5h1M248 47.5h1M248 48.5h1M248 49.5h1M248 50.5h1M248 51.5h1M248 52.5h1M248 53.5h1M248 54.5h1M248 55.5h1M248 56.5h1M248 57.5h1M248 58.5h1M248 59.5h1M248 60.5h1M248 61.5h1M248 66.5h1M248 69.5h1M248 71.5h1M248 72.5h1M248 79.5h1M248 81.5h1M248 87.5h1M249 30.5h1M249 34.5h1M249 35.5h1M249 36.5h1M249 37.5h1M249 38.5h1M249 39.5h1M249 40.5h1M249 41.5h1M249 42.5h1M249 43.5h1M249 44.5h1M249 45.5h1M249 46.5h1M249 47.5h1M249 48.5h1M249 49.5h1M249 50.5h1M249 51.5h1M249 52.5h1M249 53.5h1M249 54.5h1M249 55.5h1M249 56.5h1M249 58.5h1M249 59.5h1M249 60.5h1M249 61.5h1M249 64.5h1M249 67.5h1M249 68.5h1M249 69.5h1M249 71.5h1M249 73.5h1M249 74.5h1M250 25.5h1M250 29.5h1M250 30.5h1M250 31.5h1M250 32.5h1M250 33.5h1M250 34.5h1M250 36.5h1M250 37.5h1M250 38.5h1M250 39.5h1M250 41.5h1M250 42.5h1M250 43.5h1M250 44.5h1M250 45.5h1M250 46.5h1M250 47.5h1M250 48.5h1M250 49.5h1M250 50.5h1M250 51.5h1M250 52.5h1M250 53.5h1M250 54.5h1M250 55.5h1M250 56.5h1M250 58.5h1M250 59.5h1M250 62.5h1M250 63.5h1M250 64.5h1M250 69.5h1M250 70.5h1M250 71.5h1M250 72.5h1M251 26.5h1M251 28.5h1M251 31.5h1M251 33.5h1M251 35.5h1M251 36.5h1M251 37.5h1M251 38.5h1M251 40.5h1M251 41.5h1M251 42.5h1M251 43.5h1M251 44.5h1M251 45.5h1M251 46.5h1M251 47.5h1M251 48.5h1M251 49.5h1M251 50.5h1M251 51.5h1M251 52.5h1M251 54.5h1M251 55.5h1M251 56.5h1M251 59.5h1M251 61.5h1M251 64.5h1M251 65.5h1M251 66.5h1M251 68.5h1M251 69.5h1M251 74.5h1M251 78.5h1M251 81.5h1M252 30.5h1M252 31.5h1M252 33.5h1M252 34.5h1M252 36.5h1M252 37.5h1M252 38.5h1M252 39.5h1M252 40.5h1M252 41.5h1M252 42.5h1M252 43.5h1M252 44.5h1M252 45.5h1M252 46.5h1M252 47.5h1M252 48.5h1M252 49.5h1M252 50.5h1M252 51.5h1M252 52.5h1M252 53.5h1M252 54.5h1M252 55.5h1M252 56.5h1M252 57.5h1M252 58.5h1M252 59.5h1M252 60.5h1M252 62.5h1M252 63.5h1M252 66.5h1M252 68.5h1M252 69.5h1M252 70.5h1M252 75.5h1M252 76.5h1M252 80.5h1M253 23.5h1M253 28.5h1M253 35.5h1M253 36.5h1M253 38.5h1M253 39.5h1M253 40.5h1M253 41.5h1M253 42.5h1M253 43.5h1M253 44.5h1M253 45.5h1M253 46.5h1M253 47.5h1M253 48.5h1M253 49.5h1M253 50.5h1M253 53.5h1M253 54.5h1M253 55.5h1M253 56.5h1M253 57.5h1M253 58.5h1M253 59.5h1M253 60.5h1M253 62.5h1M253 63.5h1M253 64.5h1M253 65.5h1M253 69.5h1M253 70.5h1M253 71.5h1M253 73.5h1M253 74.5h1M253 75.5h1M254 32.5h1M254 34.5h1M254 36.5h1M254 37.5h1M254 38.5h1M254 39.5h1M254 40.5h1M254 41.5h1M254 42.5h1M254 43.5h1M254 44.5h1M254 45.5h1M254 46.5h1M254 47.5h1M254 48.5h1M254 49.5h1M254 50.5h1M254 51.5h1M254 54.5h1M254 55.5h1M254 61.5h1M254 65.5h1M254 66.5h1M254 67.5h1M254 68.5h1M254 69.5h1M254 72.5h1M254 73.5h1M254 80.5h1M255 31.5h1M255 34.5h1M255 35.5h1M255 37.5h1M255 38.5h1M255 39.5h1M255 40.5h1M255 41.5h1M255 43.5h1M255 44.5h1M255 45.5h1M255 46.5h1M255 47.5h1M255 48.5h1M255 49.5h1M255 51.5h1M255 52.5h1M255 54.5h1M255 55.5h1M255 60.5h1M255 61.5h1M255 63.5h1M255 64.5h1M255 67.5h1M255 71.5h1M255 74.5h1M255 75.5h1M255 77.5h1M256 27.5h1M256 31.5h1M256 32.5h1M256 34.5h1M256 35.5h1M256 37.5h1M256 40.5h1M256 41.5h1M256 42.5h1M256 45.5h1M256 46.5h1M256 47.5h1M256 48.5h1M256 49.5h1M256 50.5h1M256 51.5h1M256 52.5h1M256 53.5h1M256 54.5h1M256 56.5h1M256 57.5h1M256 60.5h1M256 61.5h1M256 70.5h1M256 82.5h1M257 28.5h1M257 35.5h1M257 38.5h1M257 39.5h1M257 41.5h1M257 43.5h1M257 44.5h1M257 47.5h1M257 50.5h1M257 52.5h1M257 53.5h1M257 60.5h1M257 62.5h1M257 69.5h1M258 36.5h1M258 38.5h1M258 40.5h1M258 41.5h1M258 42.5h1M258 43.5h1M258 44.5h1M258 51.5h1M258 53.5h1M258 54.5h1M258 55.5h1M258 59.5h1M258 62.5h1M258 66.5h1M258 68.5h1M258 70.5h1M258 72.5h1M258 77.5h1M259 39.5h1M259 41.5h1M259 45.5h1M259 50.5h1M259 52.5h1M259 59.5h1M259 61.5h1M259 62.5h1M259 63.5h1M259 64.5h1M259 65.5h1M259 68.5h1M259 69.5h1M259 70.5h1M259 80.5h1M260 41.5h1M260 44.5h1M260 50.5h1M260 51.5h1M260 52.5h1M260 54.5h1M260 55.5h1M260 56.5h1M260 60.5h1M260 61.5h1M260 64.5h1M260 67.5h1M260 75.5h1M260 78.5h1M261 29.5h1M261 36.5h1M261 40.5h1M261 43.5h1M261 44.5h1M261 48.5h1M261 50.5h1M261 54.5h1M261 56.5h1M261 57.5h1M261 64.5h1M261 65.5h1M261 66.5h1M261 68.5h1M262 30.5h1M262 37.5h1M262 39.5h1M262 44.5h1M262 45.5h1M262 48.5h1M262 50.5h1M262 53.5h1M262 54.5h1M262 55.5h1M262 60.5h1M262 62.5h1M262 67.5h1M262 68.5h1M262 69.5h1M263 44.5h1M263 46.5h1M263 53.5h1M263 57.5h1M263 58.5h1M263 62.5h1M263 64.5h1M263 67.5h1M263 69.5h1M263 70.5h1M263 72.5h1M264 36.5h1M264 45.5h1M264 47.5h1M264 48.5h1M264 57.5h1M264 59.5h1M264 60.5h1M264 62.5h1M264 63.5h1M264 65.5h1M264 66.5h1M265 40.5h1M265 46.5h1M265 58.5h1M265 63.5h1M265 64.5h1M266 43.5h1M266 55.5h1M266 57.5h1M266 58.5h1M266 60.5h1M266 61.5h1M266 63.5h1M266 70.5h1M267 48.5h1M267 52.5h1M267 53.5h1M267 54.5h1M267 55.5h1M267 56.5h1M267 59.5h1M267 61.5h1M267 62.5h1M267 64.5h1M267 68.5h1M267 69.5h1M268 40.5h1M268 46.5h1M268 50.5h1M268 52.5h1M268 58.5h1M268 61.5h1M268 63.5h1M268 67.5h1M268 68.5h1M268 70.5h1M269 52.5h1M269 54.5h1M269 55.5h1M269 58.5h1M269 60.5h1M269 62.5h1M269 66.5h1M270 48.5h1M270 49.5h1M270 51.5h1M270 54.5h1M270 55.5h1M270 56.5h1M270 59.5h1M270 60.5h1M270 62.5h1M270 63.5h1M270 64.5h1M270 66.5h1M270 67.5h1M271 50.5h1M271 53.5h1M271 54.5h1M271 57.5h1M271 59.5h1M271 60.5h1M271 61.5h1M271 62.5h1M271 63.5h1M271 65.5h1M271 66.5h1M272 45.5h1M272 52.5h1M272 53.5h1M272 54.5h1M272 61.5h1M272 64.5h1M272 65.5h1M272 69.5h1M272 71.5h1M272 73.5h1M273 43.5h1M273 50.5h1M273 53.5h1M273 54.5h1M273 55.5h1M273 57.5h1M273 59.5h1M273 60.5h1M273 61.5h1M273 62.5h1M273 63.5h1M273 65.5h1M273 66.5h1M273 68.5h1M273 70.5h1M273 71.5h1M273 72.5h1M274 47.5h1M274 52.5h1M274 53.5h1M274 54.5h1M274 55.5h1M274 56.5h1M274 57.5h1M274 59.5h1M274 60.5h1M274 61.5h1M274 62.5h1M274 65.5h1M274 66.5h1M274 71.5h1M274 78.5h1M275 43.5h1M275 49.5h1M275 51.5h1M275 53.5h1M275 54.5h1M275 55.5h1M275 56.5h1M275 58.5h1M275 59.5h1M275 61.5h1M275 62.5h1M275 63.5h1M275 64.5h1M275 66.5h1M275 68.5h1M276 50.5h1M276 53.5h1M276 55.5h1M276 56.5h1M276 57.5h1M276 58.5h1M276 59.5h1M276 60.5h1M276 61.5h1M276 62.5h1M276 63.5h1M276 64.5h1M276 65.5h1M276 67.5h1M276 68.5h1M276 71.5h1M276 73.5h1M276 74.5h1M276 75.5h1M277 57.5h1M277 58.5h1M277 59.5h1M277 60.5h1M277 62.5h1M277 63.5h1M277 64.5h1M277 65.5h1M277 66.5h1M277 67.5h1M277 68.5h1M277 69.5h1M277 72.5h1M277 100.5h1M278 46.5h1M278 54.5h1M278 55.5h1M278 57.5h1M278 58.5h1M278 59.5h1M278 60.5h1M278 62.5h1M278 63.5h1M278 64.5h1M278 65.5h1M278 67.5h1M278 69.5h1M278 70.5h1M278 73.5h1M278 75.5h1M279 41.5h1M279 45.5h1M279 52.5h1M279 54.5h1M279 55.5h1M279 57.5h1M279 59.5h1M279 63.5h1M279 64.5h1M279 66.5h1M279 69.5h1M279 72.5h1M279 75.5h1M280 54.5h1M280 55.5h1M280 56.5h1M280 57.5h1M280 59.5h1M280 61.5h1M280 63.5h1M280 64.5h1M280 65.5h1M280 66.5h1M280 67.5h1M280 69.5h1M280 70.5h1M280 71.5h1M280 72.5h1M280 73.5h1M281 49.5h1M281 55.5h1M281 57.5h1M281 59.5h1M281 62.5h1M281 63.5h1M281 64.5h1M281 66.5h1M281 70.5h1M281 74.5h1M281 76.5h1M281 77.5h1M281 83.5h1M282 50.5h1M282 55.5h1M282 57.5h1M282 58.5h1M282 62.5h1M282 63.5h1M282 65.5h1M282 66.5h1M282 68.5h1M282 69.5h1M282 70.5h1M282 71.5h1M282 72.5h1M282 79.5h1M283 56.5h1M283 59.5h1M283 61.5h1M283 63.5h1M283 64.5h1M283 65.5h1M283 66.5h1M283 67.5h1M283 71.5h1M283 73.5h1M283 75.5h1M283 84.5h1M284 46.5h1M284 60.5h1M284 62.5h1M284 63.5h1M284 64.5h1M284 65.5h1M284 66.5h1M284 67.5h1M284 69.5h1M284 70.5h1M284 71.5h1M284 72.5h1M284 74.5h1M284 75.5h1M284 77.5h1M284 78.5h1M284 85.5h1M285 55.5h1M285 58.5h1M285 59.5h1M285 60.5h1M285 61.5h1M285 65.5h1M285 66.5h1M285 69.5h1M285 70.5h1M285 71.5h1M285 72.5h1M285 73.5h1M285 75.5h1M285 76.5h1M286 51.5h1M286 65.5h1M286 67.5h1M286 68.5h1M286 69.5h1M286 71.5h1M286 72.5h1M286 73.5h1M286 77.5h1M286 80.5h1M286 83.5h1M287 64.5h1M287 65.5h1M287 67.5h1M287 69.5h1M287 70.5h1M287 72.5h1M287 77.5h1M287 84.5h1M288 22.5h1M288 55.5h1M288 60.5h1M288 62.5h1M288 63.5h1M288 64.5h1M288 66.5h1M288 67.5h1M288 68.5h1M288 70.5h1M288 71.5h1M288 72.5h1M288 73.5h1M288 75.5h1M288 78.5h1M289 59.5h1M289 61.5h1M289 68.5h1M289 71.5h1M289 73.5h1M289 74.5h1M289 77.5h1M289 78.5h1M289 80.5h1M290 20.5h1M290 56.5h1M290 62.5h1M290 63.5h1M290 64.5h1M290 65.5h1M290 66.5h1M290 67.5h1M290 69.5h1M290 70.5h1M290 71.5h1M290 72.5h1M290 73.5h1M290 74.5h1M290 75.5h1M291 48.5h1M291 58.5h1M291 61.5h1M291 67.5h1M291 68.5h1M291 69.5h1M291 70.5h1M291 71.5h1M291 72.5h1M291 73.5h1M291 76.5h1M291 78.5h1M291 80.5h1M291 81.5h1M291 86.5h1M292 55.5h1M292 58.5h1M292 64.5h1M292 65.5h1M292 68.5h1M292 69.5h1M292 70.5h1M292 71.5h1M292 72.5h1M292 73.5h1M292 74.5h1M292 80.5h1M293 59.5h1M293 61.5h1M293 64.5h1M293 65.5h1M293 66.5h1M293 67.5h1M293 68.5h1M293 70.5h1M293 71.5h1M293 72.5h1M293 73.5h1M293 74.5h1M293 77.5h1M293 80.5h1M294 56.5h1M294 59.5h1M294 63.5h1M294 65.5h1M294 66.5h1M294 67.5h1M294 68.5h1M294 69.5h1M294 71.5h1M294 72.5h1M294 73.5h1M294 74.5h1M294 75.5h1M295 50.5h1M295 67.5h1M295 68.5h1M295 69.5h1M295 73.5h1M295 74.5h1M295 76.5h1M295 78.5h1M295 81.5h1M296 60.5h1M296 61.5h1M296 71.5h1M296 72.5h1M296 73.5h1M296 74.5h1M297 60.5h1M297 66.5h1M297 72.5h1M297 76.5h1M297 77.5h1M297 113.5h1M298 61.5h1M298 67.5h1M298 70.5h1M298 74.5h1M298 78.5h1M299 58.5h1M299 62.5h1M299 70.5h1M299 72.5h1M300 69.5h1M300 73.5h1M300 74.5h1M301 32.5h1M301 68.5h1M302 65.5h1M302 67.5h1M302 70.5h1M302 74.5h1M302 102.5h1M302 116.5h1" stroke="#000" stroke-width="1" fill="none" shape-rendering="crispEdges"/>
<path d="M393 37.5h1M393 51.5h1M393 84.5h1M394 51.5h1M395 38.5h1M395 41.5h1M395 48.5h1M396 41.5h1M396 53.5h1M396 54.5h1M396 58.5h1M397 37.5h1M397 43.5h1M397 44.5h1M397 50.5h1M397 58.5h1M397 86.5h1M398 35.5h1M398 38.5h1M398 41.5h1M398 42.5h1M398 50.5h1M398 51.5h1M398 57.5h1M399 37.5h1M399 39.5h1M399 43.5h1M399 47.5h1M399 49.5h1M399 50.5h1M399 59.5h1M399 67.5h1M400 29.5h1M400 33.5h1M400 35.5h1M400 36.5h1M400 37.5h1M400 41.5h1M400 42.5h1M400 43.5h1M400 44.5h1M400 45.5h1M400 47.5h1M400 48.5h1M400 49.5h1M400 51.5h1M400 52.5h1M400 53.5h1M400 55.5h1M401 34.5h1M401 35.5h1M401 36.5h1M401 37.5h1M401 40.5h1M401 43.5h1M401 44.5h1M401 45.5h1M401 46.5h1M401 48.5h1M401 49.5h1M401 50.5h1M401 51.5h1M401 53.5h1M401 54.5h1M402 34.5h1M402 36.5h1M402 39.5h1M402 40.5h1M402 42.5h1M402 43.5h1M402 44.5h1M402 45.5h1M402 47.5h1M402 48.5h1M402 49.5h1M402 50.5h1M402 52.5h1M402 54.5h1M402 58.5h1M403 31.5h1M403 32.5h1M403 37.5h1M403 38.5h1M403 39.5h1M403 41.5h1M403 42.5h1M403 43.5h1M403 44.5h1M403 45.5h1M403 46.5h1M403 47.5h1M403 48.5h1M403 49.5h1M403 50.5h1M403 51.5h1M403 52.5h1M403 53.5h1M403 54.5h1M403 55.5h1M403 61.5h1M403 64.5h1M403 66.5h1M404 31.5h1M404 33.5h1M404 34.5h1M404 35.5h1M404 36.5h1M404 37.5h1M404 39.5h1M404 40.5h1M404 41.5h1M404 42.5h1M404 43.5h1M404 44.5h1M404 45.5h1M404 46.5h1M404 47.5h1M404 48.5h1M404 49.5h1M404 50.5h1M404 51.5h1M404 52.5h1M404 54.5h1M404 55.5h1M404 56.5h1M404 57.5h1M404 66.5h1M405 36.5h1M405 37.5h1M405 38.5h1M405 39.5h1M405 40.5h1M405 42.5h1M405 43.5h1M405 44.5h1M405 45.5h1M405 46.5h1M405 47.5h1M405 48.5h1M405 49.5h1M405 50.5h1M405 52.5h1M405 53.5h1M405 54.5h1M405 60.5h1M406 27.5h1M406 32.5h1M406 34.5h1M406 35.5h1M406 37.5h1M406 38.5h1M406 40.5h1M406 41.5h1M406 42.5h1M406 43.5h1M406 44.5h1M406 45.5h1M406 46.5h1M406 47.5h1M406 48.5h1M406 49.5h1M406 50.5h1M406 51.5h1M406 52.5h1M406 54.5h1M406 55.5h1M406 60.5h1M406 62.5h1M406 64.5h1M406 65.5h1M407 28.5h1M407 31.5h1M407 32.5h1M407 34.5h1M407 35.5h1M407 36.5h1M407 37.5h1M407 38.5h1M407 40.5h1M407 41.5h1M407 42.5h1M407 43.5h1M407 44.5h1M407 45.5h1M407 46.5h1M407 47.5h1M407 48.5h1M407 49.5h1M407 50.5h1M407 51.5h1M407 52.5h1M407 54.5h1M407 55.5h1M407 57.5h1M407 58.5h1M407 76.5h1M408 25.5h1M408 27.5h1M408 31.5h1M408 32.5h1M408 33.5h1M408 35.5h1M408 36.5h1M408 37.5h1M408 38.5h1M408 39.5h1M408 40.5h1M408 41.5h1M408 42.5h1M408 43.5h1M408 44.5h1M408 45.5h1M408 46.5h1M408 47.5h1M408 48.5h1M408 49.5h1M408 50.5h1M408 51.5h1M408 52.5h1M408 54.5h1M408 55.5h1M408 56.5h1M408 57.5h1M408 58.5h1M408 60.5h1M408 61.5h1M408 62.5h1M408 64.5h1M408 67.5h1M409 19.5h1M409 29.5h1M409 33.5h1M409 34.5h1M409 36.5h1M409 37.5h1M409 38.5h1M409 39.5h1M409 40.5h1M409 41.5h1M409 42.5h1M409 43.5h1M409 44.5h1M409 45.5h1M409 46.5h1M409 47.5h1M409 48.5h1M409 49.5h1M409 50.5h1M409 52.5h1M409 54.5h1M409 55.5h1M409 56.5h1M409 58.5h1M409 60.5h1M409 62.5h1M409 64.5h1M409 66.5h1M409 68.5h1M409 77.5h1M410 31.5h1M410 32.5h1M410 35.5h1M410 36.5h1M410 37.5h1M410 38.5h1M410 39.5h1M410 40.5h1M410 41.5h1M410 42.5h1M410 43.5h1M410 44.5h1M410 45.5h1M410 46.5h1M410 47.5h1M410 48.5h1M410 49.5h1M410 50.5h1M410 51.5h1M410 52.5h1M410 53.5h1M410 54.5h1M410 55.5h1M410 56.5h1M410 57.5h1M410 59.5h1M410 61.5h1M410 63.5h1M410 67.5h1M410 70.5h1M410 73.5h1M410 75.5h1M411 25.5h1M411 30.5h1M411 32.5h1M411 33.5h1M411 34.5h1M411 35.5h1M411 36.5h1M411 37.5h1M411 38.5h1M411 39.5h1M411 40.5h1M411 41.5h1M411 42.5h1M411 43.5h1M411 44.5h1M411 45.5h1M411 46.5h1M411 47.5h1M411 48.5h1M411 49.5h1M411 50.5h1M411 51.5h1M411 52.5h1M411 53.5h1M411 54.5h1M411 55.5h1M411 57.5h1M411 58.5h1M411 59.5h1M411 67.5h1M411 69.5h1M411 71.5h1M412 30.5h1M412 32.5h1M412 34.5h1M412 35.5h1M412 36.5h1M412 37.5h1M412 38.5h1M412 39.5h1M412 40.5h1M412 41.5h1M412 42.5h1M412 43.5h1M412 44.5h1M412 45.5h1M412 46.5h1M412 47.5h1M412 48.5h1M412 49.5h1M412 50.5h1M412 51.5h1M412 52.5h1M412 53.5h1M412 54.5h1M412 55.5h1M412 56.5h1M412 57.5h1M412 59.5h1M412 60.5h1M412 63.5h1M412 64.5h1M412 65.5h1M412 68.5h1M412 69.5h1M412 70.5h1M413 32.5h1M413 33.5h1M413 35.5h1M413 37.5h1M413 38.5h1M413 39.5h1M413 40.5h1M413 41.5h1M413 42.5h1M413 43.5h1M413 44.5h1M413 45.5h1M413 46.5h1M413 47.5h1M413 48.5h1M413 49.5h1M413 50.5h1M413 51.5h1M413 52.5h1M413 53.5h1M413 54.5h1M413 56.5h1M413 57.5h1M413 58.5h1M413 59.5h1M413 60.5h1M413 62.5h1M413 63.5h1M413 66.5h1M413 68.5h1M413 71.5h1M413 72.5h1M413 73.5h1M413 82.5h1M413 111.5h1M414 31.5h1M414 34.5h1M414 35.5h1M414 36.5h1M414 37.5h1M414 38.5h1M414 39.5h1M414 40.5h1M414 41.5h1M414 42.5h1M414 43.5h1M414 44.5h1M414 45.5h1M414 46.5h1M414 47.5h1M414 48.5h1M414 49.5h1M414 50.5h1M414 51.5h1M414 52.5h1M414 55.5h1M414 57.5h1M414 58.5h1M414 59.5h1M414 62.5h1M414 63.5h1M414 65.5h1M414 66.5h1M414 68.5h1M414 77.5h1M415 29.5h1M415 32.5h1M415 33.5h1M415 35.5h1M415 36.5h1M415 37.5h1M415 38.5h1M415 39.5h1M415 40.5h1M415 41.5h1M415 42.5h1M415 43.5h1M415 44.5h1M415 45.5h1M415 46.5h1M415 47.5h1M415 48.5h1M415 49.5h1M415 50.5h1M415 51.5h1M415 52.5h1M415 53.5h1M415 56.5h1M415 57.5h1M415 58.5h1M415 59.5h1M415 61.5h1M415 65.5h1M415 67.5h1M415 68.5h1M415 70.5h1M415 80.5h1M416 23.5h1M416 27.5h1M416 29.5h1M416 31.5h1M416 34.5h1M416 35.5h1M416 36.5h1M416 37.5h1M416 38.5h1M416 39.5h1M416 40.5h1M416 41.5h1M416 42.5h1M416 43.5h1M416 44.5h1M416 45.5h1M416 46.5h1M416 47.5h1M416 48.5h1M416 49.5h1M416 50.5h1M416 51.5h1M416 52.5h1M416 53.5h1M416 54.5h1M416 55.5h1M416 56.5h1M416 57.5h1M416 59.5h1M416 61.5h1M416 62.5h1M416 63.5h1M416 65.5h1M416 66.5h1M416 67.5h1M416 68.5h1M416 69.5h1M416 74.5h1M417 23.5h1M417 32.5h1M417 34.5h1M417 35.5h1M417 37.5h1M417 38.5h1M417 39.5h1M417 40.5h1M417 41.5h1M417 42.5h1M417 43.5h1M417 44.5h1M417 45.5h1M417 46.5h1M417 47.5h1M417 48.5h1M417 49.5h1M417 50.5h1M417 51.5h1M417 52.5h1M417 53.5h1M417 54.5h1M417 55.5h1M417 56.5h1M417 58.5h1M417 60.5h1M417 61.5h1M417 62.5h1M417 63.5h1M417 64.5h1M417 65.5h1M417 66.5h1M417 67.5h1M417 70.5h1M417 75.5h1M417 76.5h1M417 86.5h1M418 22.5h1M418 31.5h1M418 33.5h1M418 36.5h1M418 37.5h1M418 38.5h1M418 39.5h1M418 40.5h1M418 41.5h1M418 42.5h1M418 43.5h1M418 44.5h1M418 45.5h1M418 46.5h1M418 47.5h1M418 48.5h1M418 49.5h1M418 50.5h1M418 51.5h1M418 52.5h1M418 53.5h1M418 54.5h1M418 55.5h1M418 60.5h1M418 61.5h1M418 64.5h1M418 71.5h1M418 72.5h1M418 77.5h1M419 25.5h1M419 28.5h1M419 30.5h1M419 31.5h1M419 34.5h1M419 35.5h1M419 37.5h1M419 38.5h1M419 39.5h1M419 40.5h1M419 41.5h1M419 42.5h1M419 43.5h1M419 44.5h1M419 45.5h1M419 46.5h1M419 47.5h1M419 48.5h1M419 49.5h1M419 50.5h1M419 51.5h1M419 53.5h1M419 54.5h1M419 55.5h1M419 61.5h1M419 63.5h1M419 65.5h1M419 66.5h1M419 70.5h1M419 71.5h1M419 76.5h1M419 79.5h1M420 31.5h1M420 33.5h1M420 35.5h1M420 37.5h1M420 38.5h1M420 39.5h1M420 40.5h1M420 41.5h1M420 42.5h1M420 43.5h1M420 44.5h1M420 45.5h1M420 46.5h1M420 47.5h1M420 48.5h1M420 49.5h1M420 50.5h1M420 52.5h1M420 53.5h1M420 54.5h1M420 55.5h1M420 56.5h1M420 57.5h1M420 58.5h1M420 59.5h1M420 60.5h1M420 63.5h1M420 67.5h1M420 68.5h1M420 71.5h1M420 72.5h1M420 73.5h1M420 74.5h1M421 32.5h1M421 33.5h1M421 37.5h1M421 38.5h1M421 39.5h1M421 40.5h1M421 41.5h1M421 42.5h1M421 43.5h1M421 44.5h1M421 45.5h1M421 46.5h1M421 47.5h1M421 49.5h1M421 51.5h1M421 52.5h1M421 53.5h1M421 54.5h1M421 55.5h1M421 58.5h1M421 59.5h1M421 60.5h1M421 61.5h1M421 62.5h1M421 63.5h1M421 64.5h1M421 65.5h1M421 66.5h1M421 67.5h1M421 69.5h1M421 70.5h1M421 72.5h1M421 73.5h1M421 77.5h1M422 28.5h1M422 36.5h1M422 37.5h1M422 39.5h1M422 41.5h1M422 42.5h1M422 46.5h1M422 47.5h1M422 48.5h1M422 49.5h1M422 50.5h1M422 52.5h1M422 54.5h1M422 55.5h1M422 59.5h1M422 60.5h1M422 62.5h1M422 63.5h1M422 64.5h1M422 65.5h1M422 71.5h1M422 76.5h1M423 29.5h1M423 32.5h1M423 36.5h1M423 37.5h1M423 38.5h1M423 40.5h1M423 41.5h1M423 43.5h1M423 44.5h1M423 45.5h1M423 47.5h1M423 48.5h1M423 49.5h1M423 51.5h1M423 52.5h1M423 53.5h1M423 54.5h1M423 55.5h1M423 56.5h1M423 57.5h1M423 58.5h1M423 59.5h1M423 61.5h1M423 62.5h1M423 63.5h1M423 64.5h1M423 66.5h1M423 67.5h1M423 68.5h1M423 71.5h1M423 74.5h1M423 75.5h1M423 88.5h1M424 21.5h1M424 32.5h1M424 33.5h1M424 41.5h1M424 43.5h1M424 44.5h1M424 45.5h1M424 46.5h1M424 49.5h1M424 50.5h1M424 55.5h1M424 56.5h1M424 58.5h1M424 60.5h1M424 61.5h1M424 63.5h1M424 65.5h1M424 66.5h1M424 67.5h1M424 68.5h1M424 71.5h1M424 76.5h1M424 80.5h1M425 26.5h1M425 37.5h1M425 40.5h1M425 41.5h1M425 45.5h1M425 46.5h1M425 47.5h1M425 48.5h1M425 49.5h1M425 50.5h1M425 52.5h1M425 54.5h1M425 55.5h1M425 58.5h1M425 59.5h1M425 60.5h1M425 63.5h1M425 66.5h1M425 70.5h1M425 71.5h1M425 72.5h1M425 78.5h1M425 82.5h1M426 33.5h1M426 34.5h1M426 38.5h1M426 39.5h1M426 40.5h1M426 43.5h1M426 47.5h1M426 48.5h1M426 49.5h1M426 50.5h1M426 56.5h1M426 58.5h1M426 60.5h1M426 65.5h1M426 66.5h1M426 68.5h1M426 73.5h1M426 78.5h1M427 27.5h1M427 40.5h1M427 41.5h1M427 43.5h1M427 45.5h1M427 47.5h1M427 49.5h1M427 50.5h1M427 51.5h1M427 52.5h1M427 55.5h1M427 60.5h1M427 62.5h1M427 69.5h1M427 71.5h1M427 80.5h1M428 31.5h1M428 42.5h1M428 43.5h1M428 47.5h1M428 53.5h1M428 54.5h1M428 56.5h1M428 57.5h1M428 59.5h1M428 66.5h1M428 72.5h1M429 36.5h1M429 40.5h1M429 41.5h1M429 48.5h1M429 53.5h1M429 55.5h1M429 56.5h1M429 59.5h1M429 63.5h1M429 65.5h1M429 71.5h1M430 44.5h1M430 50.5h1M430 59.5h1M430 60.5h1M430 61.5h1M430 67.5h1M431 50.5h1M431 58.5h1M431 60.5h1M431 62.5h1M431 69.5h1M431 76.5h1M432 41.5h1M432 50.5h1M432 55.5h1M432 59.5h1M432 62.5h1M432 64.5h1M432 68.5h1M433 52.5h1M433 58.5h1M433 59.5h1M433 62.5h1M433 64.5h1M433 65.5h1M434 44.5h1M434 45.5h1M434 49.5h1M434 56.5h1M434 58.5h1M434 60.5h1M434 62.5h1M434 63.5h1M434 70.5h1M435 34.5h1M435 44.5h1M435 54.5h1M435 55.5h1M435 56.5h1M435 59.5h1M435 60.5h1M435 62.5h1M435 63.5h1M436 48.5h1M436 51.5h1M436 54.5h1M436 59.5h1M436 60.5h1M436 61.5h1M436 62.5h1M436 64.5h1M436 65.5h1M436 68.5h1M437 49.5h1M437 50.5h1M437 51.5h1M437 58.5h1M437 59.5h1M437 61.5h1M437 62.5h1M437 64.5h1M437 65.5h1M437 67.5h1M437 71.5h1M438 44.5h1M438 49.5h1M438 52.5h1M438 53.5h1M438 57.5h1M438 58.5h1M438 60.5h1M438 64.5h1M438 68.5h1M438 70.5h1M438 71.5h1M438 76.5h1M438 108.5h1M439 31.5h1M439 41.5h1M439 47.5h1M439 54.5h1M439 55.5h1M439 56.5h1M439 58.5h1M439 60.5h1M439 63.5h1M439 64.5h1M439 65.5h1M439 66.5h1M439 70.5h1M439 71.5h1M439 72.5h1M440 44.5h1M440 47.5h1M440 51.5h1M440 53.5h1M440 54.5h1M440 56.5h1M440 57.5h1M440 58.5h1M440 59.5h1M440 60.5h1M440 63.5h1M440 64.5h1M440 65.5h1M440 68.5h1M440 70.5h1M441 44.5h1M441 50.5h1M441 52.5h1M441 53.5h1M441 58.5h1M441 59.5h1M441 60.5h1M441 61.5h1M441 62.5h1M441 63.5h1M441 65.5h1M441 66.5h1M441 67.5h1M441 69.5h1M441 71.5h1M441 77.5h1M442 46.5h1M442 50.5h1M442 51.5h1M442 52.5h1M442 61.5h1M442 62.5h1M442 65.5h1M442 67.5h1M442 75.5h1M443 33.5h1M443 48.5h1M443 52.5h1M443 53.5h1M443 55.5h1M443 58.5h1M443 59.5h1M443 61.5h1M443 63.5h1M443 64.5h1M443 65.5h1M443 66.5h1M443 68.5h1M443 69.5h1M443 70.5h1M443 72.5h1M443 73.5h1M444 38.5h1M444 45.5h1M444 52.5h1M444 54.5h1M444 55.5h1M444 56.5h1M444 57.5h1M444 59.5h1M444 60.5h1M444 61.5h1M444 63.5h1M444 65.5h1M444 68.5h1M444 69.5h1M444 71.5h1M444 78.5h1M445 52.5h1M445 56.5h1M445 57.5h1M445 58.5h1M445 61.5h1M445 62.5h1M445 63.5h1M445 64.5h1M445 66.5h1M445 72.5h1M445 76.5h1M445 77.5h1M446 49.5h1M446 50.5h1M446 54.5h1M446 60.5h1M446 62.5h1M446 64.5h1M446 65.5h1M446 66.5h1M446 69.5h1M446 71.5h1M446 73.5h1M446 75.5h1M446 76.5h1M447 45.5h1M447 49.5h1M447 51.5h1M447 52.5h1M447 55.5h1M447 57.5h1M447 58.5h1M447 61.5h1M447 64.5h1M447 67.5h1M447 71.5h1M447 72.5h1M447 73.5h1M447 75.5h1M447 76.5h1M447 79.5h1M448 56.5h1M448 57.5h1M448 59.5h1M448 60.5h1M448 61.5h1M448 62.5h1M448 63.5h1M448 64.5h1M448 65.5h1M448 66.5h1M448 67.5h1M448 69.5h1M448 70.5h1M448 72.5h1M448 74.5h1M448 76.5h1M449 54.5h1M449 57.5h1M449 58.5h1M449 59.5h1M449 60.5h1M449 62.5h1M449 63.5h1M449 65.5h1M449 67.5h1M449 68.5h1M449 69.5h1M449 70.5h1M449 71.5h1M449 75.5h1M449 76.5h1M449 79.5h1M449 84.5h1M450 54.5h1M450 58.5h1M450 60.5h1M450 62.5h1M450 63.5h1M450 65.5h1M450 66.5h1M450 67.5h1M450 71.5h1M450 73.5h1M450 74.5h1M450 75.5h1M450 76.5h1M450 84.5h1M451 43.5h1M451 54.5h1M451 55.5h1M451 56.5h1M451 58.5h1M451 61.5h1M451 64.5h1M451 65.5h1M451 66.5h1M451 70.5h1M451 71.5h1M451 73.5h1M451 74.5h1M451 75.5h1M451 88.5h1M452 52.5h1M452 56.5h1M452 60.5h1M452 61.5h1M452 62.5h1M452 64.5h1M452 67.5h1M452 68.5h1M452 71.5h1M452 73.5h1M453 53.5h1M453 54.5h1M453 60.5h1M453 61.5h1M453 62.5h1M453 63.5h1M453 65.5h1M453 68.5h1M453 71.5h1M453 75.5h1M453 76.5h1M453 77.5h1M453 82.5h1M453 85.5h1M454 62.5h1M454 65.5h1M454 66.5h1M454 67.5h1M454 71.5h1M454 72.5h1M454 76.5h1M454 85.5h1M454 91.5h1M455 59.5h1M455 62.5h1M455 64.5h1M455 66.5h1M455 68.5h1M455 69.5h1M455 70.5h1M455 71.5h1M455 72.5h1M455 76.5h1M455 79.5h1M455 80.5h1M455 82.5h1M455 84.5h1M455 85.5h1M455 86.5h1M456 27.5h1M456 56.5h1M456 59.5h1M456 65.5h1M456 66.5h1M456 68.5h1M456 69.5h1M456 70.5h1M456 74.5h1M456 76.5h1M456 77.5h1M456 79.5h1M456 80.5h1M456 84.5h1M456 86.5h1M457 49.5h1M457 51.5h1M457 60.5h1M457 63.5h1M457 66.5h1M457 67.5h1M457 68.5h1M457 69.5h1M457 70.5h1M457 71.5h1M457 74.5h1M457 75.5h1M457 76.5h1M457 80.5h1M457 86.5h1M458 36.5h1M458 64.5h1M458 65.5h1M458 67.5h1M458 69.5h1M458 70.5h1M458 73.5h1M458 74.5h1M458 75.5h1M458 76.5h1M458 80.5h1M458 84.5h1M458 86.5h1M459 61.5h1M459 63.5h1M459 65.5h1M459 67.5h1M459 68.5h1M459 69.5h1M459 75.5h1M459 76.5h1M459 78.5h1M459 80.5h1M460 60.5h1M460 61.5h1M460 64.5h1M460 66.5h1M460 68.5h1M460 70.5h1M460 71.5h1M460 73.5h1M460 76.5h1M460 77.5h1M460 78.5h1M460 82.5h1M461 47.5h1M461 56.5h1M461 59.5h1M461 65.5h1M461 66.5h1M461 67.5h1M461 69.5h1M461 71.5h1M461 73.5h1M461 75.5h1M462 62.5h1M462 65.5h1M462 66.5h1M462 71.5h1M462 73.5h1M462 76.5h1M462 78.5h1M462 79.5h1M462 91.5h1M463 65.5h1M463 66.5h1M463 67.5h1M463 71.5h1M463 75.5h1M463 76.5h1M464 57.5h1M464 63.5h1M464 64.5h1M464 66.5h1M464 67.5h1M464 72.5h1M464 73.5h1M464 74.5h1M464 76.5h1M464 89.5h1M465 73.5h1M465 78.5h1M466 57.5h1M466 70.5h1M466 72.5h1M466 75.5h1M466 78.5h1M467 47.5h1M467 67.5h1M467 69.5h1M467 76.5h1M468 70.5h1M468 75.5h1M469 61.5h1M469 67.5h1M469 72.5h1M469 75.5h1M470 65.5h1M472 69.5h1" stroke="#000" stroke-width="1" fill="none" shape-rendering="crispEdges"/>
</svg>
</body></html>
